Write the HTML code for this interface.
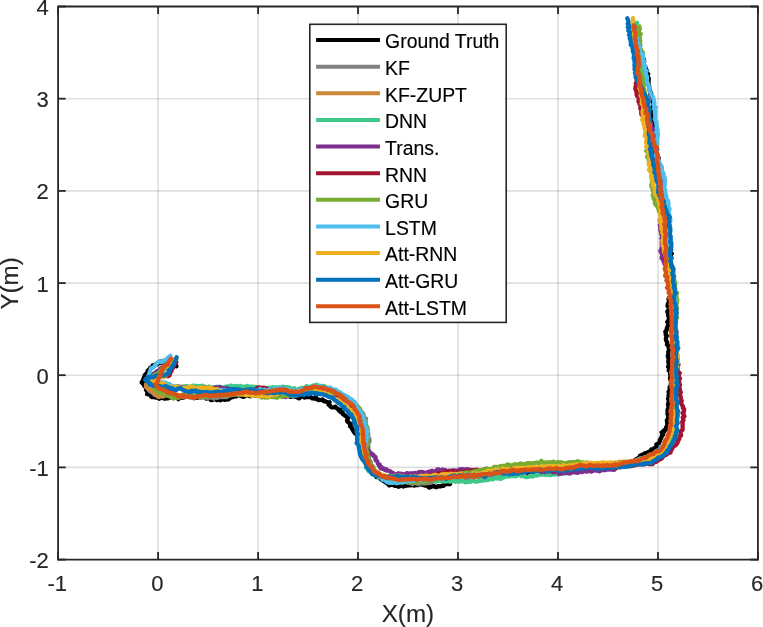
<!DOCTYPE html>
<html lang="en"><head><meta charset="utf-8"><title>Trajectory comparison</title>
<style>html,body{margin:0;padding:0;background:#fff}body{width:763px;height:627px;overflow:hidden}svg{display:block}text{font-family:"Liberation Sans",Arial,sans-serif;fill:#262626;stroke:#262626;stroke-width:.15px}.tk{font-size:22px}.lb{font-size:24.2px}.lg{font-size:19.4px;fill:#000;stroke:#000}.tr polyline{fill:none;stroke-width:4.3;stroke-linejoin:round;stroke-linecap:round}.gd line{stroke:#262626;stroke-opacity:0.15;stroke-width:1.6}.ax line{stroke:#262626;stroke-width:1.8}</style></head><body>
<svg width="763" height="627" viewBox="0 0 763 627">
<rect x="0" y="0" width="763" height="627" fill="#ffffff"/>
<g class="gd"><line x1="158.1" y1="6.5" x2="158.1" y2="559.6"/><line x1="258.1" y1="6.5" x2="258.1" y2="559.6"/><line x1="358.0" y1="6.5" x2="358.0" y2="559.6"/><line x1="458.0" y1="6.5" x2="458.0" y2="559.6"/><line x1="558.0" y1="6.5" x2="558.0" y2="559.6"/><line x1="658.0" y1="6.5" x2="658.0" y2="559.6"/><line x1="58.1" y1="98.7" x2="757.95" y2="98.7"/><line x1="58.1" y1="190.9" x2="757.95" y2="190.9"/><line x1="58.1" y1="283.1" x2="757.95" y2="283.1"/><line x1="58.1" y1="375.2" x2="757.95" y2="375.2"/><line x1="58.1" y1="467.4" x2="757.95" y2="467.4"/></g>
<g class="tr">
<polyline stroke="#000000" points="176.4,366.2 175.6,364.2 174.4,364.1 173.6,362.9 171.4,363.0 169.7,362.1 169.4,361.5 167.4,361.0 166.1,361.1 163.8,361.0 163.0,361.8 161.6,362.7 160.6,361.3 159.6,362.8 158.6,363.2 157.4,364.3 156.0,364.1 155.0,365.2 152.6,365.5 152.5,367.3 150.2,367.9 149.9,368.8 148.5,370.0 147.7,370.8 148.3,371.3 146.3,373.7 145.0,374.8 144.6,375.8 144.1,377.6 144.9,378.9 143.3,378.8 143.2,380.1 141.7,382.5 142.5,383.4 143.0,383.3 144.3,384.1 143.9,385.5 145.5,386.8 146.1,387.6 146.0,389.9 147.1,390.6 147.5,391.9 147.1,394.2 149.6,394.3 150.5,395.4 151.0,396.4 151.7,397.1 154.5,397.0 155.3,397.6 157.3,397.3 159.3,398.8 160.0,398.3 162.4,397.6 163.4,398.4 165.1,398.7 166.6,398.1 168.2,398.3 170.4,397.5 171.4,396.1 172.8,396.3 174.3,395.9 176.1,397.1 176.8,397.4 178.3,399.1 179.7,397.8 180.4,396.7 181.7,397.5 182.6,397.8 185.5,396.9 186.6,396.8 187.8,396.8 189.3,397.1 192.2,396.9 192.8,396.9 194.1,398.2 195.7,397.8 197.2,397.9 199.1,397.1 199.4,397.0 201.8,397.4 201.3,396.0 203.5,396.7 204.6,396.9 206.0,398.5 207.4,398.3 209.3,398.1 211.0,400.1 212.3,399.8 212.9,399.8 215.1,399.0 216.9,400.1 218.3,399.2 220.4,400.3 222.3,398.9 223.3,399.1 224.7,399.9 227.5,398.9 228.2,399.5 229.4,398.7 231.5,397.0 233.2,397.0 234.3,396.0 236.5,396.3 237.6,394.9 239.0,394.9 241.1,396.1 243.0,396.8 244.0,396.7 245.9,395.3 247.4,395.4 250.1,396.3 250.3,395.2 252.7,394.5 253.7,395.3 255.3,395.5 257.2,394.5 258.8,393.9 260.6,394.0 261.8,395.3 263.1,394.2 264.8,394.4 266.8,394.5 268.5,394.5 270.4,393.5 271.8,393.8 273.5,392.4 275.3,392.3 276.3,391.5 277.5,392.8 279.0,391.7 280.3,391.0 283.0,391.3 283.4,391.5 285.5,392.7 287.0,391.7 288.8,392.9 289.9,394.2 290.6,396.9 292.6,396.6 294.8,396.4 297.0,397.3 299.1,398.4 301.1,396.6 303.6,396.2 304.7,397.6 306.9,396.8 308.1,397.1 309.7,396.3 311.7,398.1 312.6,398.4 313.8,397.9 313.9,398.5 315.8,396.9 316.0,399.1 317.4,398.9 318.2,399.7 318.3,400.0 320.4,399.9 322.4,399.5 324.0,401.4 325.0,401.0 326.1,401.7 326.5,401.7 328.2,402.8 329.6,402.2 328.6,404.8 329.7,404.8 329.8,405.7 331.4,407.4 333.9,407.4 335.3,406.6 336.4,408.0 337.5,408.4 337.9,409.1 339.3,410.8 340.5,409.8 340.6,412.1 342.6,412.1 342.7,414.0 343.6,414.5 344.6,415.2 345.0,415.7 345.9,416.2 347.0,417.4 348.2,417.6 347.7,418.9 347.0,420.5 347.6,421.8 348.4,422.1 349.4,423.3 350.8,424.0 350.0,426.2 351.5,427.3 352.1,429.1 352.6,429.0 353.1,430.7 354.5,432.6 355.3,433.6 357.2,434.9 358.1,437.2 357.3,438.1 359.8,439.2 360.6,440.7 360.6,443.0 360.8,444.6 362.2,445.4 361.9,447.3 361.5,449.6 362.3,451.2 362.7,452.3 362.3,454.6 364.5,455.8 364.3,456.6 365.6,458.5 365.1,460.8 368.0,461.0 367.7,462.3 368.6,464.5 368.8,466.8 369.7,468.6 369.2,469.3 372.9,471.0 371.7,472.5 373.9,474.0 375.4,475.1 376.2,477.0 377.9,477.1 379.3,477.1 381.0,479.5 382.4,479.4 383.1,480.7 386.5,482.8 387.4,483.5 389.3,485.4 390.1,484.8 392.8,484.7 394.5,485.8 396.2,485.9 397.3,485.7 398.4,486.8 400.5,486.0 401.5,484.8 403.2,486.5 405.6,485.7 406.8,485.6 408.8,485.1 410.5,485.3 412.9,484.7 414.3,485.6 415.4,485.0 417.6,485.0 418.5,485.1 420.3,483.8 422.5,484.8 423.3,485.0 425.4,485.6 426.6,485.0 429.0,487.6 431.2,486.9 431.9,486.3 433.9,486.0 435.2,487.0 436.7,487.0 438.2,486.2 440.8,486.4 442.7,485.4 443.6,485.8 444.6,484.3 446.7,484.0 447.9,483.9 449.9,484.2 451.0,481.0 452.6,480.9 454.3,480.2 455.5,481.2 457.1,479.6 458.2,479.9 460.3,480.1 461.4,479.2 463.5,479.0 464.8,479.1 466.7,477.5 468.5,477.5 469.4,477.7 471.2,477.5 472.7,476.8 474.8,475.2 476.9,475.8 478.2,476.7 479.4,476.5 481.6,475.9 482.1,475.5 485.0,476.4 485.7,475.6 486.4,475.2 490.1,475.0 491.5,476.4 492.0,475.4 494.1,475.7 495.4,474.3 497.2,475.0 498.0,473.6 499.9,473.6 502.1,475.1 503.5,473.4 505.3,472.0 506.5,471.9 508.9,471.6 509.4,471.9 511.2,470.3 511.9,469.2 513.8,470.1 516.5,470.2 517.2,470.5 519.5,471.4 520.8,471.0 522.1,471.6 523.9,470.4 525.5,471.9 527.2,472.8 529.2,471.7 530.7,471.3 531.9,471.1 533.4,472.1 535.3,469.9 536.8,470.2 538.8,470.4 541.0,470.4 541.9,469.5 543.2,470.1 544.7,469.7 546.1,470.0 547.7,469.8 549.2,469.1 551.1,469.8 552.7,470.3 554.7,468.8 555.9,469.1 557.6,469.5 558.7,468.0 561.5,468.7 562.5,467.7 564.8,469.2 566.1,470.0 568.0,469.7 568.7,468.2 570.8,468.7 573.1,468.1 573.2,468.1 575.8,468.9 577.4,466.8 578.7,468.4 580.3,467.4 582.2,468.4 583.0,467.4 584.9,466.7 586.1,467.4 587.7,467.6 589.3,467.0 591.1,467.2 592.8,466.3 594.5,465.1 595.4,467.1 598.4,466.9 599.6,466.3 601.1,466.1 602.3,466.7 603.9,465.4 605.7,465.0 607.3,465.1 608.2,465.9 610.5,463.7 613.1,465.1 612.7,463.7 615.3,462.9 616.9,464.3 618.1,463.1 620.2,462.0 620.9,462.7 623.2,463.3 625.3,463.2 626.0,462.0 627.6,462.3 629.5,462.3 630.6,461.1 633.1,461.3 633.7,460.8 635.7,459.6 636.4,459.0 638.6,458.1 639.6,457.1 639.9,455.9 642.2,454.6 643.4,454.8 644.8,453.3 647.0,452.7 647.5,452.6 648.7,451.7 651.5,451.8 651.3,449.5 653.7,449.5 654.0,448.3 655.7,448.9 656.9,447.6 656.3,444.3 657.3,443.8 658.6,443.7 659.3,442.5 659.8,441.3 659.8,439.9 661.2,437.9 661.6,437.3 661.6,436.1 663.0,434.9 661.6,432.3 664.2,431.7 663.8,430.4 665.9,429.8 666.0,428.0 666.1,427.2 667.5,425.8 667.1,423.4 667.2,422.4 666.8,420.5 667.9,418.7 668.1,417.4 668.4,416.1 667.4,413.7 668.2,412.7 667.5,411.5 667.6,409.5 668.2,408.1 668.8,406.9 668.0,405.0 668.3,403.4 668.5,402.5 668.7,400.2 668.0,398.6 669.4,397.1 668.5,395.9 669.2,393.8 668.5,392.0 669.5,390.4 669.8,389.3 669.6,387.0 671.6,386.2 670.7,384.1 671.9,382.0 671.3,381.1 670.0,379.4 670.2,377.2 670.6,376.2 670.2,374.5 670.1,372.7 669.9,370.8 668.7,370.5 669.7,368.4 668.1,366.8 669.7,365.3 668.6,363.6 668.3,362.0 668.5,360.0 668.9,358.9 667.9,356.9 667.9,355.2 668.7,354.0 668.2,352.1 669.0,349.9 670.7,348.8 668.5,347.6 669.1,345.8 666.9,344.6 667.3,342.5 666.2,340.7 665.9,339.7 666.0,337.9 666.8,335.7 665.7,334.8 665.8,332.9 665.3,331.7 666.9,330.0 666.8,328.3 668.0,325.6 667.9,325.0 669.6,323.4 667.3,321.9 668.6,320.1 669.5,318.2 668.5,316.8 668.0,314.5 668.3,313.6 667.3,311.6 668.2,310.4 669.8,308.6 669.0,307.9 667.5,305.9 667.8,304.3 668.4,302.7 669.7,301.7 668.5,299.1 669.0,297.9 670.4,296.1 670.6,294.4 670.0,292.9 669.7,291.0 669.7,290.1 670.4,288.2 669.4,286.3 671.6,284.3 670.7,283.1 671.5,281.4 672.5,279.8 672.0,278.0 670.4,276.1 672.0,275.2 672.2,272.7 670.8,271.6 670.7,270.5 671.2,268.4 670.0,267.8 672.1,266.3 669.2,264.7 670.0,262.7 670.5,261.1 670.5,259.6 670.8,257.8 671.0,257.0 670.7,254.4 671.8,253.6 669.4,251.7 670.8,250.0 670.0,248.7 670.2,247.1 670.0,245.4 668.8,243.4 668.7,241.6 669.4,239.9 668.8,238.9 667.9,237.2 669.7,235.6 669.8,233.5 667.0,232.9 668.1,230.0 669.6,228.9 668.1,227.5 667.4,225.5 666.7,223.6 666.1,222.3 666.0,220.5 665.4,219.3 666.0,217.2 664.9,215.7 664.7,214.6 663.9,212.5 664.6,211.3 663.8,209.8 664.0,208.5 664.6,206.6 663.9,204.6 663.9,203.8 663.6,201.5 663.2,200.0 662.9,198.5 662.6,197.9 663.1,195.4 661.5,193.7 663.1,192.4 661.8,190.6 661.2,190.0 661.0,187.3 660.9,186.2 661.3,183.9 660.8,183.4 662.0,180.7 660.6,179.6 659.4,177.7 660.4,176.6 659.1,175.1 660.0,172.2 660.5,171.7 659.8,170.1 657.9,168.6 658.0,167.3 659.3,164.6 657.9,163.0 657.6,162.4 658.2,161.1 658.8,158.3 657.8,156.8 656.7,155.4 656.6,153.7 656.5,152.8 655.3,151.2 654.7,150.1 655.2,148.4 654.0,146.1 654.5,145.0 654.1,142.3 655.6,141.0 653.2,140.3 653.3,138.0 653.0,136.1 653.4,134.8 653.9,133.6 652.6,131.7 652.3,129.8 651.9,129.0 652.4,127.3 653.3,124.7 653.0,123.5 652.5,122.6 652.9,120.6 653.3,119.1 653.7,117.0 652.9,115.7 653.1,113.7 652.1,112.5 652.8,111.7 654.6,109.0 651.9,107.7 653.2,106.0 653.5,104.0 653.1,103.0 652.6,101.5 652.7,99.0 652.6,98.0 652.3,96.8 650.3,94.3 651.2,93.1 650.2,91.6 649.9,90.5 649.8,89.0 649.5,87.5 649.1,85.7 647.7,84.2 648.6,83.6 648.5,80.9 648.6,80.1 648.8,78.5 647.7,76.5 647.6,75.2 648.2,74.2 646.2,71.5 647.0,70.9 645.9,69.0 645.5,67.5 643.9,65.5 643.9,64.6 644.0,62.4 644.2,61.4 643.8,59.1 642.6,58.2 642.0,56.5 640.9,54.1 641.2,53.0 640.0,51.6 639.8,49.2 640.1,48.3 638.3,47.3 636.7,45.4 636.7,44.5 635.6,42.1 635.3,40.5 636.6,39.4 635.4,38.0 633.8,36.2 635.1,34.5 635.4,33.3 634.1,31.2 633.8,30.6 633.9,28.4"/>
<polyline stroke="#808080" points="170.0,362.5 171.1,363.5 171.1,364.4 169.8,365.3 168.0,366.8 166.5,366.0 165.7,368.0 163.7,368.7 163.2,370.5 161.4,370.4 161.0,371.4 160.1,371.7 157.4,373.0 157.4,374.1 155.8,374.5 154.1,375.7 153.1,375.9 151.8,377.8 150.8,379.3 148.2,380.1 148.5,382.3 148.4,382.1 147.5,383.4 147.5,384.7 147.3,386.3 147.1,387.7 148.3,388.8 148.8,389.9 149.7,391.3 151.5,391.7 151.6,392.3 152.8,392.9 154.8,394.9 155.0,392.7 156.7,393.6 158.7,394.3 160.2,394.0 162.5,393.8 163.6,394.7 166.1,395.5 167.5,395.6 168.4,394.3 169.1,394.7 171.0,394.3 172.7,394.8 173.5,395.2 175.9,395.0 177.7,395.0 179.0,396.2 180.9,396.9 181.8,396.3 182.0,396.0 183.7,397.0 184.7,395.5 187.0,396.8 188.0,396.5 190.6,397.2 191.9,397.4 193.5,398.0 194.3,396.7 195.0,396.7 197.9,396.1 198.3,397.1 200.4,396.9 201.2,397.6 202.5,397.1 204.3,397.8 205.9,397.4 207.8,398.0 209.1,397.3 211.2,397.6 212.6,396.8 213.8,398.7 215.1,396.9 217.3,398.1 218.7,397.1 220.1,396.8 221.2,397.1 222.6,397.0 225.1,396.8 226.9,397.0 228.5,395.8 229.2,395.8 231.7,394.7 232.7,395.2 234.7,394.7 236.3,394.3 237.4,394.5 239.1,394.4 240.1,394.5 242.2,394.5 243.4,393.9 245.9,393.6 247.3,394.2 249.2,392.6 250.6,392.9 251.8,394.0 253.7,391.5 255.1,392.5 257.1,393.3 258.6,392.0 259.7,394.4 261.6,391.6 263.3,393.8 264.8,393.9 266.9,393.4 268.8,392.6 269.6,392.9 271.2,391.9 272.2,392.7 274.4,391.1 276.0,391.2 277.0,391.7 279.3,390.1 281.1,390.3 282.1,390.5 283.8,389.7 284.9,391.3 287.1,391.4 288.0,390.7 289.9,392.1 292.5,392.4 293.3,392.6 295.1,393.2 296.5,392.7 297.9,393.4 299.8,391.9 301.8,392.2 302.6,391.1 304.8,390.7 306.4,389.2 307.8,388.6 308.2,388.0 310.2,388.4 311.5,388.4 314.2,388.7 315.5,388.3 317.1,387.8 318.1,387.8 319.5,388.4 321.5,388.6 322.9,389.8 324.2,389.9 326.3,389.5 328.1,390.0 329.1,391.4 330.3,391.0 331.6,390.8 333.5,392.3 335.6,392.1 337.0,392.6 338.5,393.1 340.4,393.0 341.5,395.3 343.5,394.8 344.8,395.9 346.0,396.3 347.1,397.9 348.9,398.7 349.9,399.4 351.7,399.8 352.7,401.8 354.9,402.9 355.1,404.5 356.7,406.1 357.7,406.7 357.9,408.6 359.6,409.1 360.8,410.8 362.4,412.9 363.4,414.0 363.7,416.0 364.3,417.6 366.0,418.6 365.2,420.7 365.8,422.4 365.8,424.5 366.3,426.0 367.4,427.6 367.6,429.2 366.1,430.6 367.2,432.4 368.4,433.7 367.7,436.1 368.1,436.4 369.2,438.7 369.6,441.3 369.2,441.8 368.2,443.1 368.3,445.1 368.4,447.2 367.9,448.3 367.6,450.2 369.1,451.2 368.1,452.8 368.9,455.7 369.0,455.9 368.8,457.3 369.0,458.9 369.6,460.7 370.8,461.9 370.9,463.8 370.3,465.7 372.1,465.6 373.6,467.4 373.4,469.1 374.2,470.5 374.9,471.4 376.9,472.0 377.4,474.0 379.4,474.2 380.4,474.5 382.2,475.8 383.7,476.7 384.6,477.6 386.3,478.1 387.9,478.2 390.1,479.2 390.4,478.8 392.8,479.7 394.0,478.7 396.1,479.0 398.1,480.6 399.2,479.7 401.0,480.6 402.2,481.0 404.9,481.2 406.1,481.5 407.8,482.8 408.5,480.9 410.1,483.0 412.6,484.0 413.8,482.8 415.4,483.0 417.2,483.5 418.3,484.3 420.7,482.7 422.0,483.4 423.9,483.2 425.1,483.5 427.1,483.0 428.3,483.1 430.5,482.2 432.2,482.2 433.7,481.4 435.1,481.1 436.8,481.1 437.0,480.9 439.9,479.9 441.2,481.2 442.9,480.0 444.2,479.1 445.5,480.4 447.3,479.2 449.5,479.7 451.4,479.4 452.2,479.6 453.6,479.6 456.2,479.1 456.8,479.5 459.7,480.5 460.3,478.1 461.6,479.2 464.0,479.1 465.8,477.9 466.1,477.5 469.0,478.9 469.8,477.0 472.2,477.9 472.9,476.6 474.0,476.0 476.4,475.8 478.2,475.6 480.3,475.6 481.7,475.1 482.9,475.0 484.1,475.0 485.7,475.7 487.4,475.4 488.6,474.3 490.5,474.4 491.2,474.8 493.8,473.8 495.3,473.6 497.9,472.7 498.8,472.8 499.9,472.7 501.9,472.6 502.7,471.8 504.7,472.6 505.6,471.2 508.7,472.7 509.8,471.3 510.7,471.0 512.7,470.3 514.6,468.9 516.2,470.4 517.7,470.5 518.9,471.5 520.5,469.7 522.5,471.4 524.4,470.2 525.3,470.9 526.7,469.1 529.3,470.5 530.1,470.4 532.5,470.9 533.8,470.6 535.6,469.9 537.6,471.1 538.7,471.0 540.4,470.9 541.3,471.2 543.0,471.3 545.1,470.6 547.0,469.8 548.6,469.7 550.6,471.1 551.4,470.6 552.9,470.2 554.8,469.7 556.1,469.9 557.6,469.8 558.8,469.5 561.3,469.2 562.2,470.7 564.3,469.5 565.1,469.0 567.7,468.3 568.5,468.5 570.9,469.0 571.5,468.8 573.5,468.0 575.7,467.8 576.5,467.5 578.4,466.9 579.9,468.2 580.7,467.8 583.4,469.0 585.0,467.3 586.0,467.8 588.3,468.5 589.3,468.1 590.8,467.5 592.8,467.8 594.1,468.3 597.0,468.4 597.0,468.1 599.6,468.5 601.3,468.3 601.7,467.8 603.4,467.5 605.9,467.0 607.1,467.3 609.1,467.3 611.0,466.6 612.0,466.7 613.3,466.2 614.2,465.6 617.0,465.5 618.3,466.4 620.4,466.1 622.1,466.5 623.0,465.6 625.9,465.6 627.3,465.6 628.8,465.1 629.4,464.1 631.3,463.8 632.9,463.6 634.3,462.6 635.9,463.1 638.1,462.9 639.4,461.7 641.4,462.7 642.3,461.2 644.7,460.6 645.8,460.3 646.2,459.9 648.8,459.7 650.6,458.8 652.9,458.7 653.8,457.7 655.4,456.9 656.6,455.8 658.2,454.1 659.8,454.0 661.1,452.7 663.2,452.4 664.6,450.3 666.4,449.9 666.9,448.5 668.5,446.2 668.8,444.9 669.7,442.9 670.6,441.4 671.5,439.5 671.2,437.6 672.2,436.8 673.9,435.4 672.9,433.7 673.7,430.8 673.8,429.6 673.9,427.5 675.6,426.7 675.3,425.6 675.8,422.4 676.7,421.4 677.1,419.6 675.2,417.9 676.2,416.0 675.8,414.4 675.5,413.6 675.4,410.8 674.9,409.9 675.7,408.2 675.0,405.8 674.8,404.5 675.2,403.4 675.0,402.5 674.8,400.1 674.8,398.4 675.7,397.1 675.0,395.9 674.8,394.2 674.5,392.8 674.9,390.6 674.6,388.7 675.3,387.1 675.5,386.2 674.4,384.2 675.6,382.5 676.1,381.3 675.9,379.6 675.4,377.0 676.6,376.2 675.6,374.3 675.2,373.2 675.3,371.4 675.8,370.5 676.3,368.2 676.4,366.1 675.8,364.1 675.0,362.8 675.3,361.4 675.2,360.1 675.6,358.7 674.7,356.9 675.7,355.0 676.0,353.9 675.6,351.6 676.0,350.8 675.3,349.5 675.0,347.6 675.4,346.3 676.4,344.5 676.3,341.9 675.5,340.8 676.4,339.1 675.6,337.1 676.6,335.4 676.1,334.6 675.6,332.2 676.3,331.0 675.4,329.6 675.3,327.8 675.0,327.0 675.9,325.1 675.7,323.2 675.6,321.3 675.3,320.1 676.2,318.3 675.1,316.3 674.9,314.5 676.0,313.1 676.0,311.2 675.4,310.3 674.2,308.7 674.7,306.8 675.2,305.4 674.7,303.8 675.3,301.2 673.6,300.5 674.5,299.1 673.4,297.0 674.1,294.7 673.1,293.9 673.2,291.7 672.0,291.0 671.2,289.5 670.9,288.0 670.7,286.2 670.0,283.9 671.1,283.3 670.7,280.6 670.1,280.2 669.2,278.4 669.5,276.4 669.0,274.9 669.9,273.4 669.1,272.7 668.8,270.3 668.0,269.4 666.6,266.4 666.9,265.9 666.4,264.2 666.9,263.1 666.6,261.3 666.1,260.0 666.3,257.5 667.5,256.4 666.2,254.4 666.4,253.3 666.9,251.7 666.8,249.3 667.1,248.6 667.7,247.4 668.3,244.9 666.3,243.9 667.1,242.0 666.9,239.8 666.7,238.9 666.4,236.6 666.1,235.7 666.7,233.1 665.7,231.6 665.8,230.8 665.7,229.1 665.6,227.7 665.3,225.7 665.8,223.6 665.2,223.2 665.1,220.6 664.9,219.9 664.2,218.2 664.1,216.9 663.6,213.8 664.2,213.0 663.4,211.4 663.0,210.2 663.3,207.8 663.3,207.5 661.7,205.2 663.2,202.5 662.2,202.1 661.9,200.3 662.4,198.4 661.8,197.4 661.3,195.5 662.7,193.4 660.7,192.3 661.0,190.6 661.3,189.2 660.0,187.5 660.2,186.0 660.2,183.8 661.1,182.4 659.1,181.4 659.6,180.6 659.7,177.7 659.2,176.1 658.6,175.3 659.4,174.0 659.0,172.1 658.8,169.6 659.1,168.8 658.7,167.0 658.0,165.2 657.6,163.2 656.7,162.2 657.0,160.6 657.0,159.2 656.3,156.7 656.4,155.3 655.7,154.3 656.8,153.0 656.8,151.2 654.9,149.3 655.0,148.2 654.1,146.1 654.5,144.6 653.6,143.2 653.0,141.6 652.5,140.1 652.4,139.0 651.4,137.4 651.6,134.5 651.0,134.6 651.3,132.5 650.6,130.4 651.0,129.1 650.3,127.9 650.6,126.4 649.1,124.4 649.6,122.4 648.9,120.8 648.9,119.7 648.4,117.8 648.7,117.0 646.6,115.3 647.5,113.9 646.1,112.1 647.2,110.1 645.2,108.7 645.5,107.8 644.8,105.4 646.5,104.2 644.7,103.1 645.1,101.0 644.6,100.0 643.4,98.0 643.8,96.1 643.9,94.7 643.0,92.9 643.2,91.6 642.0,90.1 641.8,89.1 641.1,87.0 641.2,85.8 641.8,83.9 640.7,82.3 640.4,80.6 640.0,79.8 639.8,78.2 640.8,76.0 639.3,74.2 639.2,72.6 639.5,70.8 639.0,69.1 640.1,67.7 637.4,66.5 638.7,65.2 638.6,63.6 637.3,61.9 637.3,60.0 637.7,58.3 638.1,56.8 636.6,55.4 636.0,53.5 637.4,51.9 637.6,50.2 636.5,48.8 635.4,47.7 637.2,46.0 636.0,43.9 636.4,42.3 635.5,41.0 635.0,39.6 634.5,36.9 635.4,36.4 635.0,34.6 632.8,33.0 633.2,32.0 634.5,29.7 633.1,27.5"/>
<polyline stroke="#CB8839" points="171.1,361.8 170.4,362.7 168.9,362.6 167.8,363.7 166.0,365.7 165.1,365.8 164.0,367.0 163.6,368.6 163.1,369.0 162.4,370.2 160.6,370.6 159.6,372.3 157.3,373.8 155.7,374.6 155.3,374.4 154.5,376.7 153.3,377.1 152.3,377.5 152.4,379.7 150.5,379.2 148.7,382.0 149.4,381.8 147.2,383.9 146.1,384.3 146.3,384.9 145.9,386.8 148.1,387.9 147.9,388.8 149.5,389.7 151.4,389.5 152.1,391.1 154.1,392.3 153.6,393.1 155.0,394.0 156.4,395.0 157.6,396.5 159.1,397.0 160.3,396.3 162.9,395.8 163.2,396.6 165.1,394.7 166.8,395.3 167.3,394.8 168.4,394.4 169.6,395.4 171.0,395.3 172.3,395.8 174.2,395.9 175.3,394.5 177.8,395.2 178.5,395.4 181.8,394.8 183.2,394.6 184.5,395.7 185.3,394.5 186.6,394.5 189.0,394.6 190.2,395.0 192.1,395.0 193.2,395.6 195.6,395.4 196.0,394.0 197.5,392.9 197.7,393.2 199.4,392.5 201.3,393.2 202.2,394.5 203.9,394.5 205.9,395.2 207.0,395.0 208.6,393.9 210.8,394.7 212.5,394.0 214.0,395.6 215.6,394.4 217.0,394.4 218.7,394.6 220.4,394.4 221.8,394.3 223.3,395.1 224.9,394.2 227.4,394.3 228.1,394.3 229.5,392.9 231.1,394.2 232.8,393.5 234.5,393.5 235.5,392.5 236.8,393.4 239.3,393.1 240.2,392.6 242.6,394.1 244.1,393.2 246.1,392.7 247.9,393.0 249.0,393.4 250.3,393.5 251.6,393.2 253.4,393.5 255.3,393.6 256.0,392.2 258.5,392.6 260.0,392.4 261.9,392.9 263.2,393.6 264.9,393.1 266.2,392.1 267.9,392.3 269.1,392.9 271.3,391.8 273.6,391.6 274.7,391.6 276.1,390.1 277.4,391.3 279.9,390.6 280.5,390.6 282.7,389.6 284.0,389.6 285.2,389.7 287.5,390.5 288.7,390.5 290.4,390.8 291.9,391.9 293.4,391.7 294.9,390.7 296.7,390.7 298.0,391.9 299.4,390.5 301.0,391.1 302.3,390.9 303.8,389.3 305.5,389.0 307.4,388.7 309.3,387.7 309.7,387.5 312.1,387.4 312.8,387.9 314.8,387.0 316.7,387.0 317.6,386.7 319.5,386.3 321.7,388.2 323.7,386.4 325.0,387.6 326.2,388.6 329.1,388.3 329.5,389.6 330.6,390.4 333.5,390.3 334.3,391.5 335.7,391.5 337.2,393.4 338.3,393.8 339.9,394.8 340.8,396.0 342.0,396.2 343.8,397.9 345.1,398.3 346.6,398.2 347.4,399.9 349.1,401.6 350.5,401.6 350.6,404.0 352.4,405.0 353.1,406.2 354.3,406.5 355.4,408.8 356.3,410.3 357.5,411.4 358.4,413.1 360.1,413.6 359.3,416.0 361.3,417.3 362.2,417.9 362.3,420.5 362.5,422.2 362.0,423.6 363.1,425.5 362.6,426.8 363.3,427.7 361.9,430.3 362.9,431.5 362.3,433.2 364.1,434.5 363.4,436.7 364.4,437.9 363.7,439.0 363.9,441.1 365.2,442.7 365.1,443.7 365.3,445.4 365.7,446.9 365.6,448.5 366.0,450.4 366.6,452.1 366.2,454.2 366.2,455.6 367.4,456.8 367.4,458.5 367.7,460.2 368.2,461.0 369.3,462.8 369.3,464.4 370.1,465.6 371.0,466.8 372.4,467.8 372.6,469.8 373.6,470.6 376.0,471.4 376.9,472.4 377.8,474.0 379.7,474.0 380.9,475.6 381.9,476.0 383.7,476.4 384.5,477.1 386.0,476.8 387.5,477.8 390.6,477.7 390.5,480.0 393.1,479.9 395.1,479.9 396.0,479.5 398.4,480.1 400.1,480.4 401.4,480.5 403.5,480.7 404.5,479.9 405.5,480.9 407.6,480.6 408.9,480.5 410.1,480.7 411.7,481.6 414.8,482.1 415.2,480.8 417.1,482.4 418.5,482.1 420.4,481.0 421.8,480.7 423.4,480.7 424.7,481.1 426.1,480.2 428.0,479.6 430.1,480.1 432.3,478.6 433.6,479.7 435.5,480.2 436.6,479.7 438.0,479.9 439.0,479.7 441.2,479.6 441.9,479.2 444.2,478.4 446.6,478.5 447.6,478.4 449.6,478.8 450.6,478.7 451.7,477.8 453.6,476.8 455.2,476.5 457.5,476.6 459.4,477.2 459.9,476.6 461.7,476.4 463.3,475.9 464.9,476.8 466.1,476.5 468.3,476.2 470.0,476.3 471.7,477.2 472.6,476.3 474.7,477.3 475.6,477.1 478.3,476.3 479.2,476.7 481.0,476.1 482.5,475.6 484.1,475.7 485.4,475.2 486.9,475.8 489.8,475.1 490.8,475.3 492.5,475.2 494.5,472.7 495.4,474.5 497.1,473.1 498.6,474.0 500.6,473.1 502.0,473.5 503.6,473.9 504.8,472.1 506.7,472.8 508.6,472.4 508.8,471.2 511.3,472.3 512.7,471.7 514.3,471.1 515.2,470.8 518.1,472.6 518.9,470.6 520.6,469.6 522.2,470.0 523.3,470.2 525.4,470.1 526.5,470.2 528.4,469.6 530.3,470.4 532.0,469.8 533.6,469.3 535.2,469.6 537.7,469.8 538.6,470.5 539.5,470.4 541.4,470.0 543.0,470.2 544.8,470.3 546.2,471.3 547.7,469.8 550.3,470.4 551.3,470.6 552.7,469.7 554.4,470.4 556.0,470.5 558.3,470.1 559.5,470.6 561.4,470.6 561.4,470.6 564.3,469.5 566.2,469.4 568.3,470.2 568.9,468.1 569.8,468.5 572.4,468.5 573.4,467.9 574.6,468.0 576.6,467.5 578.9,467.6 580.6,467.8 581.9,466.8 582.8,467.0 585.8,466.7 585.9,466.6 587.9,466.8 589.0,466.2 591.7,467.3 593.0,467.9 594.8,467.9 596.1,467.7 597.6,466.6 599.3,467.9 600.1,466.7 602.9,467.0 604.5,467.9 605.5,466.3 607.3,467.2 609.1,466.8 611.2,466.4 612.3,465.9 613.8,466.5 615.2,465.9 616.5,466.6 618.5,466.5 620.1,464.8 621.7,464.9 623.4,464.6 625.1,463.6 626.5,463.1 628.1,463.3 629.8,462.5 631.0,461.3 632.6,461.5 634.5,461.6 634.9,460.5 637.7,460.0 638.7,461.2 641.0,460.5 641.8,458.7 643.9,458.4 645.3,459.0 646.3,457.9 648.8,457.5 649.9,457.0 651.7,456.9 652.4,454.7 654.3,453.9 655.9,453.6 657.8,453.8 658.3,452.7 659.4,450.7 661.6,450.2 663.3,448.5 663.6,447.2 664.4,446.0 666.0,444.4 667.0,443.6 667.3,441.8 668.2,440.3 668.4,439.3 669.3,436.8 669.6,435.4 670.7,434.3 670.9,433.0 671.6,430.9 672.8,428.9 672.8,428.1 673.4,426.6 672.6,424.2 674.0,423.5 673.6,422.0 673.8,419.7 673.8,418.1 675.0,416.3 674.8,414.8 673.9,412.8 673.5,411.4 674.0,409.9 673.6,408.3 674.7,406.2 672.9,404.5 672.7,402.9 673.6,401.4 673.9,401.4 674.1,398.9 674.6,397.1 675.4,395.3 674.2,394.5 674.2,391.6 673.6,390.5 674.7,389.3 675.1,387.4 674.5,386.0 675.3,384.6 674.7,382.4 675.5,381.3 674.9,380.0 674.2,378.0 674.5,376.2 674.0,375.0 674.0,372.4 675.1,371.8 675.4,369.0 676.0,367.8 674.9,366.9 674.9,364.8 674.5,362.8 675.7,361.7 675.5,360.5 675.1,358.4 675.8,356.0 675.8,355.8 674.6,353.4 676.0,352.0 675.6,350.4 675.2,348.9 675.1,347.3 676.1,345.1 675.8,343.7 675.8,342.7 674.1,340.1 674.3,339.7 675.1,337.3 674.0,335.9 674.3,333.9 673.7,332.6 675.8,330.7 675.4,329.6 675.1,327.6 674.9,326.2 674.5,323.9 674.4,323.4 674.8,321.0 674.0,319.7 674.8,318.2 673.7,316.9 673.3,314.9 674.3,314.0 673.4,312.4 673.6,309.9 673.0,309.3 671.8,306.5 673.3,305.5 672.1,303.7 673.2,302.1 671.6,300.5 671.2,299.2 672.1,297.5 671.8,295.8 671.2,293.8 670.1,292.3 670.9,290.4 669.4,289.5 669.7,288.0 669.3,287.0 669.2,284.5 669.6,282.7 668.6,281.8 669.0,279.6 668.8,277.8 667.3,276.9 667.3,274.9 667.4,273.6 667.1,272.9 667.3,270.8 665.9,269.2 667.0,267.2 666.9,266.2 666.2,264.4 665.4,263.1 666.1,261.1 665.7,259.4 666.4,257.4 666.1,255.9 666.7,254.6 666.2,252.9 667.4,251.4 665.6,249.8 666.4,247.6 667.3,247.6 666.2,245.1 667.3,243.3 666.0,241.3 666.4,240.6 665.4,238.4 665.4,236.6 665.4,235.6 665.1,234.6 664.7,232.3 666.0,231.0 664.9,228.7 664.4,227.8 665.4,225.0 665.5,224.1 665.7,222.8 665.9,221.1 664.2,219.8 665.0,217.5 664.7,215.5 663.8,214.7 663.6,212.6 661.7,212.0 662.7,209.8 663.6,207.2 661.7,207.4 662.0,204.6 662.3,203.0 662.4,202.6 662.8,200.8 660.8,199.2 661.5,196.7 661.9,195.6 660.5,194.1 661.0,192.0 661.9,190.6 661.5,189.0 660.9,187.6 659.0,185.6 660.2,184.7 660.1,182.1 659.6,181.3 659.4,179.9 660.7,177.6 658.5,176.3 657.9,175.8 658.1,173.3 657.5,172.4 657.3,170.6 657.1,168.3 657.5,167.3 657.1,165.2 656.3,164.0 656.7,161.4 657.1,160.6 656.6,159.4 657.3,157.7 656.8,156.1 655.5,154.2 655.9,152.6 656.4,150.5 655.9,149.2 654.8,147.9 654.9,146.1 653.8,145.0 653.0,143.4 653.5,141.3 652.9,139.8 652.8,138.7 652.1,137.8 651.6,135.9 650.5,134.1 650.7,133.5 650.1,131.1 649.0,129.4 649.1,128.1 647.4,127.2 647.2,124.3 648.0,122.6 648.0,121.7 646.8,119.6 646.3,118.1 645.6,117.6 645.9,114.4 646.1,114.2 644.6,112.5 645.4,111.1 645.0,109.1 644.8,108.0 643.6,106.1 644.1,103.9 642.7,102.9 644.0,101.3 642.7,99.1 641.8,98.7 642.6,96.1 642.3,95.1 640.9,93.5 642.1,91.7 640.0,90.5 640.4,88.8 640.7,87.4 638.5,86.1 639.9,83.8 639.1,82.5 638.9,81.3 638.0,79.6 638.6,77.9 637.7,76.2 637.7,74.4 637.9,72.8 637.4,71.6 638.9,69.6 637.3,68.6 637.6,67.6 637.7,64.9 637.8,63.9 638.1,62.0 638.0,60.5 637.2,58.2 637.1,57.4 637.1,55.2 637.4,53.8 637.2,52.5 636.4,51.2 635.3,48.9 637.3,47.0 636.4,45.3 635.8,43.4 635.7,42.4 635.0,40.9 634.5,39.5 634.5,37.8 634.3,36.4 633.8,35.0 633.0,32.3 633.4,32.2 633.6,29.7 632.8,28.1"/>
<polyline stroke="#3DC98A" points="172.0,359.7 170.5,360.3 170.7,361.6 169.3,361.8 169.5,363.9 168.2,364.8 166.5,365.1 165.9,365.9 164.9,366.7 164.3,368.6 163.0,368.8 161.9,369.2 160.0,370.8 157.9,373.2 156.8,374.9 156.3,376.0 154.6,377.1 152.4,377.7 151.0,377.5 149.9,378.8 149.4,378.9 148.6,380.5 150.2,380.6 150.5,381.9 152.1,382.2 152.4,381.7 155.4,383.9 157.6,384.7 157.7,384.4 160.7,386.0 161.6,386.9 162.4,386.7 163.4,387.4 166.0,387.1 167.1,387.5 168.7,387.1 169.7,387.0 170.8,387.5 172.8,387.7 173.4,387.3 175.6,386.8 175.8,386.5 177.4,386.7 178.4,386.7 180.8,387.1 180.6,387.0 182.3,386.6 184.8,386.3 186.4,386.1 189.2,386.8 190.9,386.6 192.2,385.6 193.7,386.2 194.0,385.7 195.9,386.0 197.7,386.1 199.5,386.2 200.7,386.0 202.5,385.6 202.8,386.6 205.2,386.6 206.6,387.8 208.6,386.5 210.2,387.3 211.3,388.2 212.9,387.5 214.8,387.1 216.5,387.0 217.1,386.8 220.1,386.9 221.3,387.3 222.9,387.9 224.6,387.6 225.6,386.6 227.6,386.3 229.6,387.0 231.1,385.5 232.5,386.3 233.9,386.4 235.2,386.0 237.7,386.1 239.0,387.1 240.2,386.0 241.1,386.5 243.3,386.6 244.5,387.0 247.3,385.9 248.6,387.4 249.8,386.6 251.7,386.7 254.4,386.8 255.5,386.9 256.2,387.0 258.3,388.4 259.5,388.1 260.9,388.0 263.2,388.8 265.6,387.8 266.9,388.6 267.7,388.3 269.0,387.7 270.9,388.6 272.5,387.1 273.3,388.3 274.6,387.3 277.8,387.5 279.0,388.0 281.2,387.3 282.4,386.7 284.7,387.2 285.7,387.2 288.0,387.2 290.1,387.8 291.3,388.8 292.1,389.3 294.3,388.3 294.9,389.5 295.8,390.0 297.9,389.6 299.5,388.6 301.1,389.4 301.4,388.0 304.1,388.3 305.9,388.5 306.4,386.1 307.6,387.2 310.7,386.5 312.2,386.1 313.7,385.3 314.5,385.4 316.4,384.7 319.0,385.8 320.6,386.3 322.2,385.9 323.6,386.1 325.4,386.8 326.5,387.5 328.1,388.2 329.5,388.7 331.3,389.7 332.8,389.7 335.1,390.1 335.4,392.9 335.8,394.0 338.9,394.2 338.9,395.0 340.3,396.8 341.6,398.2 343.0,399.1 343.0,399.4 345.8,400.5 346.9,401.7 348.2,402.8 348.7,402.5 349.6,404.7 351.1,405.8 351.8,407.0 353.8,408.3 353.5,409.5 355.7,410.8 355.6,412.4 357.5,412.2 357.4,414.3 357.3,416.3 358.6,417.7 359.0,419.6 360.4,420.3 359.1,422.8 359.8,423.2 360.3,424.0 360.5,426.7 360.8,428.6 360.3,429.9 361.1,431.1 362.2,433.2 361.6,435.5 360.7,436.3 361.1,437.6 361.7,439.2 361.2,442.0 361.4,442.8 361.2,444.7 362.6,446.4 362.3,448.1 361.6,449.0 362.6,451.3 362.6,453.0 362.1,454.7 363.8,456.2 363.7,457.3 364.5,459.0 364.9,460.5 365.2,462.8 366.1,463.6 367.2,465.5 365.9,467.6 367.8,469.1 368.3,470.9 370.1,471.9 371.7,473.2 372.9,474.4 374.6,475.3 376.2,474.7 378.2,477.3 379.8,476.4 381.3,477.7 382.3,479.4 385.1,478.6 385.8,479.7 388.3,479.0 390.1,479.8 392.0,479.7 393.4,480.0 394.9,479.3 395.7,479.3 398.3,480.2 399.9,479.1 401.4,479.6 402.9,480.6 404.3,480.0 405.6,480.0 407.9,480.1 409.5,481.0 410.2,480.8 412.6,481.2 414.0,481.1 415.8,482.4 417.2,481.0 419.1,480.0 420.7,481.1 422.3,480.9 423.0,480.8 425.4,479.5 426.8,481.0 427.9,480.2 430.2,480.1 430.9,479.3 433.6,480.6 435.5,480.4 436.3,481.5 438.4,480.6 439.8,480.3 441.6,481.2 442.4,480.8 444.8,481.6 446.2,480.8 448.1,481.4 449.4,481.4 451.4,481.5 452.7,481.2 454.4,481.1 456.3,481.5 457.4,481.3 459.4,481.7 460.6,481.5 462.3,480.3 463.6,481.6 465.7,482.4 467.5,481.8 468.6,481.9 470.6,481.7 472.0,481.1 472.9,480.5 475.3,481.6 477.3,481.5 478.2,481.2 479.3,481.0 481.7,480.7 483.0,480.4 485.7,480.2 486.5,480.0 488.1,480.0 489.4,479.1 491.4,479.0 492.7,479.5 494.1,478.7 495.8,477.2 497.3,478.5 499.5,476.7 500.4,479.0 502.3,478.0 503.6,477.7 504.8,476.7 507.5,476.0 507.7,476.5 510.7,476.2 511.0,475.7 513.3,476.0 515.8,476.2 515.6,476.3 517.5,475.4 520.1,474.8 521.4,476.2 522.7,475.8 524.5,476.5 525.8,477.1 527.8,477.0 529.9,476.1 530.7,476.4 532.5,476.5 534.5,475.4 536.3,475.3 536.9,475.6 538.8,474.9 540.0,474.6 541.5,474.3 543.2,474.7 544.7,474.2 545.8,475.0 547.3,474.2 549.4,475.1 551.4,474.9 553.4,473.3 554.4,474.6 556.2,473.7 558.2,474.6 559.9,473.9 561.2,473.4 562.9,473.6 565.2,472.4 566.0,472.7 567.5,472.3 568.6,471.7 571.0,471.6 572.2,470.4 574.8,470.9 575.3,469.6 577.5,470.3 579.1,470.0 580.9,469.8 581.2,468.9 584.0,470.7 584.9,468.7 586.4,468.7 587.9,468.1 589.5,469.2 591.1,468.1 591.9,468.9 594.6,467.7 596.1,468.4 597.3,467.9 599.2,468.6 601.8,467.7 602.6,467.2 604.0,467.8 606.3,466.5 607.0,466.4 608.9,467.0 610.2,465.2 612.1,466.3 613.9,465.3 615.4,464.7 616.6,465.1 618.5,465.1 620.0,464.1 621.5,464.2 623.3,464.5 624.7,464.3 626.2,463.6 628.0,462.9 629.1,462.5 631.3,462.2 632.8,462.6 634.0,462.1 635.7,461.5 637.4,461.6 638.8,460.1 640.4,459.6 641.9,459.2 643.6,460.1 645.3,457.1 647.1,458.0 648.4,457.7 650.2,456.8 652.0,457.5 653.1,456.4 654.7,455.4 656.5,453.2 657.8,453.3 658.9,451.9 659.9,451.3 661.6,449.9 662.9,447.9 664.0,447.6 665.7,446.3 666.4,444.6 666.9,443.2 666.8,440.8 668.9,440.6 669.7,439.0 669.5,437.6 670.3,434.7 671.1,434.2 670.6,432.4 671.8,430.5 670.8,429.3 671.1,427.5 671.7,426.2 671.0,424.2 672.0,422.8 672.5,420.9 671.6,419.4 673.0,418.1 672.3,416.3 673.1,414.6 672.9,413.1 672.5,411.0 672.4,409.4 671.7,408.1 672.3,407.0 672.2,404.7 673.6,403.8 673.3,401.6 672.1,400.1 673.5,398.8 673.4,397.3 673.3,395.7 674.1,393.0 674.4,392.3 673.7,390.7 673.9,388.6 674.1,387.3 673.4,385.4 673.9,384.7 673.6,383.0 673.2,379.7 673.0,379.4 673.5,377.9 673.9,376.1 673.6,374.2 672.9,373.4 673.9,371.2 673.6,369.7 673.8,367.8 674.2,366.4 673.0,365.1 673.4,363.6 673.2,362.6 673.1,359.7 674.7,359.0 674.2,357.0 672.6,354.6 673.9,353.8 673.3,351.8 674.2,350.5 673.6,348.6 673.4,347.2 673.5,345.8 673.5,343.5 673.2,342.5 673.0,341.3 673.0,339.3 673.3,337.4 672.4,336.5 673.0,334.1 673.0,332.5 672.9,330.4 673.7,329.8 672.7,327.7 673.3,327.0 673.1,324.9 673.9,323.1 673.2,321.4 673.3,320.0 673.3,318.4 671.9,317.0 672.8,315.3 671.9,313.4 672.0,311.7 671.9,310.1 672.3,308.3 672.3,306.6 673.0,306.1 672.0,304.1 671.6,302.4 671.6,300.9 672.0,298.6 672.4,297.0 671.6,295.8 670.8,294.2 671.0,292.1 670.8,291.1 670.3,289.6 669.4,287.6 668.1,286.4 668.8,284.3 669.4,283.0 668.6,281.3 667.0,280.5 668.0,278.9 666.7,277.1 668.8,276.2 667.5,273.6 666.5,271.9 667.5,270.5 666.3,269.1 666.8,267.0 666.2,265.9 665.2,263.9 666.0,261.8 664.7,260.8 666.0,259.1 665.2,257.7 664.5,256.2 664.0,254.6 666.0,253.0 665.9,251.0 664.4,250.5 666.1,248.3 665.3,246.4 665.1,245.4 665.3,243.5 665.4,242.1 666.6,240.0 666.1,238.3 665.1,236.4 667.5,235.1 666.8,234.0 665.6,232.1 665.9,230.3 665.4,228.4 665.8,228.2 665.8,225.6 665.5,224.8 664.8,222.3 664.5,220.8 665.3,219.1 664.6,217.4 665.7,215.9 663.8,214.9 664.5,212.8 663.8,210.9 663.2,209.9 664.2,208.1 663.4,207.1 662.6,204.6 662.9,203.6 663.5,202.0 662.0,200.5 663.2,198.9 662.5,197.1 661.5,195.0 662.1,193.5 661.9,191.7 660.9,190.2 660.5,189.5 661.2,187.3 660.9,185.3 659.4,183.6 660.0,183.3 660.0,181.7 659.7,179.4 659.0,178.2 660.2,176.7 659.5,174.6 659.3,173.5 659.9,172.4 658.4,170.1 658.4,168.4 658.3,166.6 657.6,165.0 657.5,163.6 657.7,162.2 657.0,160.8 657.6,159.5 656.0,157.6 656.1,155.4 654.9,154.1 655.2,151.9 654.7,151.3 655.6,150.1 654.6,147.6 654.0,146.1 654.5,145.2 653.8,143.9 652.7,141.9 651.4,140.4 650.8,139.6 651.2,137.5 650.8,136.1 650.5,134.7 650.5,133.1 649.4,131.1 651.0,129.2 649.4,128.1 649.5,127.2 649.4,123.8 647.9,123.6 648.8,121.5 648.3,120.3 647.0,118.4 646.2,117.7 646.0,115.4 644.8,114.1 646.3,111.8 645.4,111.1 644.7,109.4 644.3,107.7 644.8,105.1 645.3,104.8 643.4,102.8 643.6,101.5 642.5,99.7 643.6,97.7 643.0,96.4 643.9,94.5 642.3,93.2 641.9,92.0 641.4,90.3 642.0,89.1 640.2,87.3 641.3,85.7 640.7,84.0 640.0,82.1 639.5,80.7 640.4,78.9 640.6,77.0 639.2,76.9 639.4,74.2 640.0,72.7 638.5,71.3 638.7,70.1 638.0,67.8 638.6,66.0 638.6,64.4 638.4,63.2 638.2,61.4 637.7,59.7 637.8,57.7 637.9,56.3 638.8,55.0 638.0,53.5 637.7,51.9 638.4,50.2 638.3,48.8 637.4,46.8 637.5,45.8 638.2,44.1 637.9,42.1 637.1,41.0 637.6,39.2 637.3,38.3 637.6,35.6 636.3,34.4 637.0,32.8 636.5,31.0 635.5,29.6 636.6,28.3 636.3,25.6 635.1,25.1 636.9,22.8"/>
<polyline stroke="#7E2F8E" points="171.5,360.4 170.1,360.0 168.4,360.9 166.9,362.2 166.1,363.2 165.4,364.9 164.8,364.9 164.0,366.1 163.7,366.9 161.7,367.5 160.1,368.8 160.0,369.3 158.2,371.1 157.0,371.1 156.7,371.6 154.8,373.0 152.8,374.3 151.4,374.1 149.5,375.0 148.7,376.4 147.3,377.9 147.1,378.9 147.3,380.3 148.5,380.3 149.2,383.0 149.2,383.5 151.4,383.6 152.5,385.6 154.9,385.7 156.2,386.7 158.4,385.6 159.4,387.4 161.0,386.8 162.9,386.1 164.9,388.1 166.5,388.1 167.8,388.3 170.5,389.2 170.5,388.6 170.7,390.1 171.3,389.9 172.2,389.9 174.4,390.6 176.8,389.5 177.2,388.6 179.4,387.9 180.3,387.9 182.9,388.4 183.9,387.7 185.3,387.9 187.2,389.4 188.8,389.3 190.0,389.3 190.6,390.3 191.5,388.4 192.8,389.0 193.9,387.8 197.1,388.4 197.9,388.7 199.6,388.9 201.0,387.6 203.0,388.8 203.4,388.1 204.9,388.7 206.7,388.8 208.7,388.8 210.8,388.1 212.4,388.2 213.5,388.2 215.4,387.4 216.6,387.3 218.6,388.5 219.8,387.1 221.5,388.3 222.8,387.9 224.6,388.8 226.9,388.0 227.3,388.9 229.4,389.1 230.7,389.1 233.0,389.5 234.9,389.2 235.7,389.9 236.3,390.1 239.3,391.0 241.0,390.9 241.6,390.7 243.9,391.5 245.6,392.1 246.3,392.1 249.2,393.5 250.7,393.3 252.2,393.9 253.3,393.4 255.0,393.8 256.7,394.8 258.7,393.7 259.7,394.8 262.3,394.8 263.5,394.7 264.1,395.2 267.3,394.6 268.5,395.5 269.8,394.9 271.9,394.9 273.2,396.5 275.5,395.3 276.0,394.9 278.4,396.4 280.6,395.4 281.7,394.1 282.3,396.1 282.9,396.6 284.8,396.4 285.5,397.0 287.4,396.0 289.2,396.3 290.6,395.3 293.1,396.0 293.9,396.5 297.4,395.7 298.1,395.2 300.0,393.5 301.9,393.7 303.8,392.5 305.7,392.9 306.8,391.7 308.5,391.8 309.7,390.6 311.2,391.7 311.6,389.8 313.0,390.1 314.4,391.1 316.7,389.7 318.2,389.1 319.7,389.8 321.3,390.1 322.8,390.0 324.4,388.5 325.6,389.6 327.4,388.5 329.6,391.1 331.4,390.5 332.2,390.3 333.8,391.6 335.6,392.4 337.7,392.8 337.5,394.5 339.5,394.9 341.5,395.6 340.8,397.3 342.3,398.7 343.8,399.8 345.1,400.3 347.7,401.4 347.9,402.8 348.7,403.9 350.0,404.1 351.5,405.9 353.6,406.1 353.7,407.4 354.9,408.6 356.8,408.8 358.1,410.6 358.7,412.6 359.1,414.3 359.6,415.8 360.6,417.2 360.9,418.3 361.5,419.9 362.1,422.1 362.2,423.4 362.5,424.5 363.2,426.6 363.2,428.4 363.7,429.9 363.1,431.4 363.8,432.7 362.7,434.7 363.6,436.8 363.5,437.8 364.1,439.0 364.2,441.0 364.3,442.0 365.1,444.1 366.2,445.3 367.5,447.2 367.8,448.4 368.6,450.2 369.3,452.1 369.5,452.5 371.2,453.4 373.3,454.8 373.4,456.0 375.3,456.8 375.7,457.7 375.4,459.8 376.1,460.7 376.8,460.8 377.7,462.6 378.2,464.0 379.7,464.7 379.0,465.8 380.0,466.2 380.6,468.3 381.8,467.2 382.5,468.9 384.0,468.7 384.9,470.0 386.2,469.3 386.7,470.5 388.9,470.7 389.7,471.0 390.9,472.0 393.1,473.2 394.1,473.8 394.7,474.8 396.5,474.9 398.3,473.3 399.5,474.5 400.7,473.6 403.3,474.4 404.9,474.7 406.3,473.4 407.6,473.2 409.4,473.7 411.1,473.2 412.0,474.0 413.8,473.1 415.3,473.0 417.3,473.5 418.6,472.1 419.5,472.3 421.2,471.8 423.7,472.4 424.2,472.8 426.2,473.0 427.4,472.2 429.7,471.6 430.7,471.4 432.1,470.8 433.4,471.4 435.4,471.7 437.2,469.5 438.8,469.4 439.8,471.3 442.4,469.5 443.4,470.6 444.7,469.9 446.9,470.9 448.2,471.0 449.8,470.7 451.4,470.9 453.2,470.4 454.7,470.5 455.9,471.0 458.4,470.3 459.5,469.3 461.8,469.1 463.2,469.4 464.8,469.4 466.2,469.5 468.2,469.2 469.2,470.0 470.6,469.8 472.7,470.1 473.1,470.2 475.6,470.6 477.3,469.8 478.8,471.5 481.0,470.9 482.4,471.1 483.8,471.2 485.2,471.5 487.4,471.2 488.2,470.9 489.9,470.5 491.9,469.5 493.5,470.4 495.7,469.9 496.4,469.9 497.5,471.4 499.9,469.0 501.9,469.9 503.0,470.6 505.3,470.5 507.0,470.7 507.6,469.5 509.3,469.7 510.7,470.6 512.9,470.0 514.7,471.0 516.2,470.1 517.1,470.1 518.9,470.2 520.2,469.9 521.7,470.2 523.4,469.8 525.0,470.3 527.1,470.1 529.0,470.6 530.6,469.9 532.0,470.0 533.4,471.2 535.3,471.1 537.1,470.5 538.3,470.9 540.1,470.4 541.6,472.1 543.0,470.2 544.9,472.0 546.0,470.7 548.5,471.4 549.0,471.2 551.4,471.2 552.4,472.1 555.1,472.3 556.5,472.0 557.5,472.0 559.4,473.9 560.8,473.8 562.8,473.2 564.6,473.0 567.2,473.2 567.2,473.2 569.9,473.5 570.7,472.3 572.7,472.5 574.5,471.9 576.0,472.7 577.5,472.8 578.7,471.7 580.4,471.8 582.0,472.2 583.9,471.1 584.4,470.8 586.4,471.7 587.6,471.3 589.3,470.8 591.0,471.6 593.3,470.8 595.3,469.6 596.6,470.7 597.2,470.4 599.4,471.3 600.5,470.3 602.8,470.0 604.8,470.2 606.1,470.0 607.8,468.9 609.1,469.5 610.0,469.1 611.7,469.7 614.2,469.8 615.8,467.5 617.7,467.0 618.6,466.6 620.3,466.1 622.0,465.5 623.9,465.2 625.1,465.3 626.0,463.6 628.4,462.9 629.6,462.4 631.6,463.6 632.5,463.5 634.2,461.5 635.1,461.3 636.8,461.8 639.2,461.7 640.7,461.2 642.5,460.2 644.4,459.8 645.4,459.2 647.4,457.9 648.5,458.7 650.1,456.8 650.6,455.9 652.6,455.1 653.6,453.9 655.5,453.7 657.5,453.1 657.4,451.8 660.2,451.3 661.6,450.8 662.4,448.6 662.9,446.7 663.8,445.7 664.9,444.5 665.1,443.1 666.2,441.0 667.1,440.2 667.9,438.3 668.6,437.6 668.7,434.7 670.3,434.5 670.6,432.0 670.6,430.9 670.2,428.7 671.6,427.7 670.8,425.5 672.1,424.3 672.0,422.2 671.1,420.7 671.5,419.1 672.9,417.2 672.6,416.5 672.0,414.0 672.2,412.9 672.2,411.9 671.7,409.6 672.0,408.2 671.7,405.9 671.9,405.1 672.5,403.3 671.8,401.6 672.8,400.9 672.6,398.3 673.0,397.4 673.2,394.8 673.5,393.1 673.2,392.2 673.2,391.2 672.8,388.9 673.2,387.3 672.5,385.5 672.8,384.3 673.3,383.1 672.9,381.0 673.2,379.7 672.5,377.0 673.8,376.5 672.9,374.8 673.5,373.0 673.4,371.8 674.1,369.9 673.5,368.2 673.2,366.7 672.8,365.0 673.7,362.8 673.2,361.5 674.1,360.6 674.5,358.6 672.5,356.6 672.9,355.5 673.7,353.6 674.1,352.1 673.5,350.2 673.5,348.9 673.6,347.3 673.7,346.0 674.3,343.9 673.9,342.8 672.9,340.2 673.4,339.2 673.8,337.7 673.3,335.7 673.6,334.4 673.5,332.8 673.3,331.2 674.0,329.9 673.4,328.4 673.0,326.7 673.1,324.3 673.5,323.4 674.5,321.7 673.5,320.1 674.1,318.1 673.4,316.0 672.0,315.5 673.2,313.3 672.4,311.9 672.0,310.5 671.9,308.5 673.3,307.5 671.3,305.2 671.7,303.8 672.5,302.6 672.0,300.0 670.7,298.8 671.3,297.0 671.1,296.4 671.0,294.4 671.3,292.8 670.3,290.9 670.1,289.0 671.0,288.5 668.9,286.4 669.4,284.8 669.5,282.7 668.4,281.7 668.5,280.5 667.8,278.6 668.3,277.3 667.5,275.7 668.0,273.7 667.8,272.3 667.0,270.5 666.6,269.7 666.4,266.6 665.7,265.4 664.4,264.1 664.9,263.2 663.7,262.0 663.3,259.9 661.5,258.0 662.2,255.4 662.4,254.2 661.5,253.3 660.4,251.0 661.4,249.4 661.5,248.3 661.8,246.2 661.7,244.9 662.1,243.7 661.6,242.3 662.0,240.3 661.4,238.3 661.8,237.6 662.1,236.1 661.1,233.8 661.5,233.4 660.4,230.2 660.4,229.5 660.3,227.5 660.9,225.4 659.9,225.2 661.1,223.4 659.8,220.6 660.9,219.9 661.9,218.1 662.1,216.3 661.4,214.5 661.4,212.8 662.6,211.5 661.5,210.2 662.5,208.3 661.9,206.7 662.1,204.6 663.4,203.3 662.8,201.1 662.5,200.6 661.1,198.6 661.8,196.4 661.6,195.0 661.3,193.8 662.0,192.6 660.2,191.1 661.0,189.2 660.7,187.4 660.1,186.1 661.3,184.8 659.5,183.1 660.0,181.0 659.8,179.3 658.6,178.7 658.7,176.7 658.9,175.5 659.5,173.4 659.1,170.2 658.9,170.0 658.5,168.6 657.0,167.3 658.1,165.7 657.6,164.5 658.3,162.0 658.3,160.5 658.6,158.2 657.8,157.9 657.7,155.4 656.5,153.6 657.2,153.2 656.1,150.7 657.3,149.7 655.9,147.5 656.1,145.4 655.8,144.4 655.7,142.6 656.0,141.2 655.1,139.4 655.1,137.3 654.3,136.4 655.2,134.4 653.8,133.0 654.2,131.0 654.5,130.3 651.4,128.9 651.6,127.5 651.2,125.5 651.3,123.6 649.9,122.6 649.7,120.7 648.8,120.2 648.8,118.3 647.4,117.2 647.9,115.1 645.5,113.9 645.6,112.4 647.3,110.9 646.0,109.0 645.1,107.7 646.3,105.4 645.5,104.3 645.1,102.1 644.0,101.1 644.5,100.2 644.0,97.9 642.7,97.1 643.3,94.3 642.5,92.7 643.0,91.5 642.5,89.8 641.2,89.2 640.8,88.0 640.8,85.7 640.6,84.0 639.8,83.0 639.5,80.8 639.6,79.1 639.3,77.3 639.5,75.4 639.0,74.1 638.3,73.0 637.7,71.2 639.0,69.4 638.2,68.4 637.9,65.9 637.8,64.5 636.9,63.4 637.4,61.9 636.0,58.7 637.2,58.1 636.9,56.5 638.3,54.4 637.5,53.2 637.1,52.0 637.2,50.1 637.4,49.1 636.3,47.0 636.5,46.3 636.1,43.9 637.3,42.1 635.9,41.5 634.4,38.7 635.8,38.1 636.5,35.6 634.5,34.8 636.8,32.6 634.8,31.6 635.2,28.7 634.4,27.8"/>
<polyline stroke="#A2142F" points="176.3,362.2 174.4,364.6 174.3,364.7 174.0,365.7 174.0,365.5 173.0,368.0 171.9,368.8 171.6,370.9 171.0,371.4 169.8,374.1 169.7,375.3 167.7,376.3 165.4,374.7 163.9,376.8 162.5,377.2 160.5,376.2 159.1,378.0 157.2,379.2 156.5,380.7 154.7,380.4 154.1,381.4 152.2,381.8 152.2,382.5 153.0,382.8 153.1,384.1 154.2,384.9 155.0,384.7 155.9,386.5 159.0,386.0 160.8,386.3 161.3,386.7 163.8,386.0 165.9,386.1 167.9,386.3 168.9,386.5 169.7,386.3 172.6,386.3 173.5,387.1 175.9,387.1 177.0,386.9 179.2,386.7 180.9,387.4 182.4,387.3 182.9,387.1 184.8,388.1 185.2,388.5 185.1,388.7 186.6,388.0 188.0,387.9 190.0,388.1 191.7,387.6 192.2,387.7 194.9,388.2 196.2,388.1 197.3,388.9 200.0,388.3 200.7,388.9 201.9,388.5 203.3,388.1 205.4,387.6 207.0,388.3 208.5,387.9 209.7,388.2 212.2,387.9 214.1,389.1 214.5,389.8 216.7,389.4 218.6,391.0 220.8,390.1 221.3,390.9 222.7,390.3 224.6,390.3 227.2,392.5 228.0,392.2 229.6,392.0 231.8,390.4 231.8,391.5 233.4,391.6 236.3,391.3 237.8,391.4 238.5,390.8 240.9,391.1 242.3,390.5 244.0,390.8 245.2,391.0 246.9,390.3 248.3,390.3 250.3,389.9 251.8,389.8 254.2,389.8 255.4,389.0 256.1,388.7 258.5,387.3 260.5,387.7 261.7,388.3 263.6,387.6 264.7,388.2 266.5,388.4 267.5,390.1 269.7,389.4 270.4,389.6 273.2,390.1 273.7,390.5 275.0,390.0 277.7,389.7 279.0,389.2 280.7,388.9 282.5,388.8 284.0,389.0 285.3,389.3 287.2,390.3 288.8,390.6 290.4,391.2 292.6,392.0 293.1,391.6 295.1,391.0 296.7,391.2 297.7,390.7 298.8,390.0 300.8,390.4 302.7,389.1 303.8,388.7 305.8,388.2 307.1,388.9 309.0,387.8 310.3,388.3 311.7,387.5 313.7,387.1 315.3,387.6 317.4,387.6 317.8,387.4 320.3,387.1 322.3,387.8 323.9,387.7 324.7,388.4 326.1,389.0 327.5,390.2 329.3,390.8 330.9,391.0 332.3,391.8 333.9,392.2 334.1,393.8 335.7,394.0 336.7,395.3 338.6,395.2 340.4,396.4 341.6,397.6 344.0,398.7 344.6,399.2 346.1,399.4 347.2,401.5 348.1,401.6 349.4,403.2 351.1,404.1 352.8,404.7 352.8,406.6 353.4,407.8 355.1,408.0 356.2,409.8 356.7,411.2 357.7,413.1 359.1,413.8 358.4,416.3 359.2,416.7 361.0,418.9 362.0,419.5 361.4,421.1 361.1,422.9 362.1,424.7 362.2,427.0 363.4,428.3 362.7,429.2 363.7,431.3 361.9,433.0 362.6,433.9 364.1,435.6 364.1,436.8 363.2,439.0 363.6,439.8 364.2,442.2 364.0,443.7 363.5,445.5 364.5,446.9 365.9,449.1 365.1,450.3 366.0,452.0 366.0,453.8 365.8,455.6 366.4,457.0 367.2,457.9 367.2,459.4 368.3,460.8 368.4,462.7 369.6,464.1 370.1,465.6 371.5,467.2 371.7,468.5 373.5,470.1 374.3,471.2 375.2,471.7 376.6,473.4 377.1,472.7 378.8,476.5 380.7,475.6 382.0,476.8 382.8,476.9 386.0,478.0 386.4,478.6 388.1,478.5 390.2,479.0 391.4,478.6 392.7,478.9 394.9,478.9 395.7,480.4 398.2,478.8 399.5,478.9 401.5,479.6 402.1,480.1 404.8,478.5 406.0,478.5 408.3,479.4 408.8,479.4 411.5,478.3 412.6,477.9 414.2,478.1 415.2,478.7 417.3,478.0 418.9,478.1 419.8,477.4 421.3,477.2 423.0,477.3 425.4,476.6 426.5,476.5 428.3,475.6 429.6,475.5 431.2,475.7 432.7,474.9 434.0,474.3 436.3,474.6 437.5,474.2 439.0,473.6 439.9,473.0 442.3,473.5 443.6,474.1 445.1,472.1 447.3,471.5 448.1,471.7 450.0,471.5 452.0,471.1 453.8,471.1 454.8,472.2 456.8,472.2 458.4,472.6 459.4,472.3 460.6,471.7 462.4,472.5 464.9,471.4 466.3,471.3 467.3,470.7 469.2,471.6 470.9,471.2 472.4,470.1 474.1,470.0 476.6,469.9 477.0,470.0 478.9,470.3 480.1,470.0 481.8,470.3 483.2,469.5 485.1,470.3 486.5,469.7 488.8,471.6 490.3,471.5 491.4,471.4 494.2,471.6 494.7,472.3 496.9,471.8 499.1,470.6 499.6,471.5 502.0,470.4 503.7,471.2 504.9,471.0 505.7,471.7 508.6,471.8 509.6,471.1 511.0,471.5 513.4,471.7 514.1,471.5 516.5,471.3 517.3,470.1 519.4,470.9 520.4,471.3 522.3,470.8 523.6,469.7 525.3,470.1 527.3,470.2 528.7,469.4 530.5,470.1 532.5,469.3 533.5,469.5 534.4,469.7 536.7,470.9 538.4,469.7 540.4,469.6 542.0,470.4 543.6,469.8 544.7,470.2 546.7,469.0 547.4,470.4 550.1,470.2 551.4,469.6 553.1,471.1 554.3,470.3 556.1,470.3 557.4,469.6 559.5,469.3 560.4,469.8 562.9,469.1 564.4,470.0 566.6,469.9 567.3,468.9 568.8,468.1 570.6,468.4 572.0,467.8 573.6,468.2 574.8,467.9 576.4,467.3 578.2,467.3 579.9,467.6 581.2,467.8 582.7,466.6 584.7,467.2 586.7,466.7 587.9,466.4 589.9,467.7 591.6,467.4 593.1,467.3 594.2,467.5 595.8,467.3 596.8,466.9 599.0,468.4 601.1,468.0 602.0,467.7 604.7,468.0 606.4,468.1 607.2,467.4 609.4,467.7 610.0,467.2 611.9,467.6 613.7,467.0 615.7,468.3 617.0,466.7 618.5,467.0 621.2,466.6 622.1,466.2 623.9,466.7 625.6,466.0 627.0,465.7 628.5,465.7 629.9,465.2 631.3,466.1 634.1,465.2 634.9,465.4 635.9,464.1 638.1,464.5 639.2,463.9 642.4,463.8 643.7,464.5 645.7,463.8 647.5,463.5 649.2,464.2 651.0,463.9 652.6,464.1 653.8,461.7 655.9,462.1 657.7,460.8 659.0,459.7 661.7,458.6 662.8,457.0 663.8,455.5 665.5,455.2 668.1,453.3 670.6,452.4 670.9,450.4 671.9,449.1 673.2,446.8 675.3,445.4 676.0,445.0 677.7,442.6 677.7,441.5 679.2,439.2 679.5,436.5 681.1,435.6 680.7,433.2 680.3,431.4 682.6,429.7 682.6,426.7 682.6,425.1 682.7,423.9 682.2,422.0 683.5,420.0 682.7,417.3 684.4,416.3 683.6,414.2 682.6,413.0 683.9,411.7 684.2,408.9 682.8,407.9 683.1,406.6 682.0,405.0 681.4,403.5 680.0,401.9 681.7,400.8 680.6,398.2 680.8,397.0 679.9,395.2 679.9,394.2 680.8,392.4 679.9,390.8 679.8,388.8 679.1,387.4 679.7,386.0 679.9,384.8 679.2,383.4 679.3,381.6 678.7,379.9 680.0,378.3 678.8,376.9 679.0,374.1 679.7,373.0 678.5,372.3 677.5,370.3 677.6,368.7 677.6,366.5 678.5,364.5 677.4,363.7 677.0,361.4 677.4,360.2 677.5,358.0 676.3,356.3 677.3,355.1 676.9,353.3 676.6,352.0 675.0,350.6 676.2,349.2 676.7,347.0 675.7,345.6 677.0,344.1 675.7,342.4 675.1,340.9 675.9,339.6 675.7,337.8 675.9,335.5 675.4,334.5 676.3,332.2 675.4,331.6 675.8,330.1 675.1,327.9 675.3,326.1 675.8,325.0 675.2,322.9 675.2,321.2 675.2,319.5 675.3,318.3 675.5,316.7 675.4,315.7 675.5,313.4 675.0,311.7 674.5,309.6 674.0,309.1 674.6,307.3 674.2,305.7 673.4,303.4 675.2,303.0 673.0,301.0 673.6,298.0 673.5,296.9 672.8,296.1 673.8,293.8 672.1,292.1 671.3,290.7 672.2,289.2 670.4,288.1 669.5,286.0 669.3,284.8 669.0,282.9 668.9,281.4 668.8,280.2 667.4,278.0 668.2,277.1 668.9,275.0 667.3,274.0 667.4,272.3 667.8,270.7 667.9,269.2 666.8,267.3 666.6,265.3 666.4,263.5 667.4,262.1 667.2,261.1 665.5,258.9 665.5,257.7 665.9,255.6 665.7,255.2 666.7,252.5 666.6,251.7 667.6,249.4 666.9,248.4 666.6,246.3 667.2,245.1 666.1,244.2 665.8,242.2 666.5,240.3 666.9,238.6 665.5,237.9 666.8,235.8 666.7,234.0 665.9,232.3 666.2,230.5 665.9,229.3 666.0,227.9 666.3,225.6 665.3,224.3 666.0,222.1 665.7,221.1 665.3,219.1 663.5,218.3 663.2,216.2 664.2,214.6 663.2,212.9 662.9,211.9 662.6,210.0 662.1,208.7 662.5,206.8 662.1,204.9 661.9,202.4 662.5,201.9 661.4,200.1 662.3,198.6 660.2,196.8 662.4,195.2 660.0,193.6 660.7,192.2 660.6,189.8 660.0,188.7 660.4,188.3 659.8,185.9 659.0,184.5 660.3,183.7 660.7,181.4 659.8,179.8 659.1,178.4 659.5,176.4 659.8,175.5 659.3,172.9 659.3,171.3 658.5,169.9 658.1,168.6 656.3,167.2 658.1,165.4 656.5,163.4 656.6,162.0 655.5,159.9 655.4,159.3 655.1,157.0 655.7,156.1 655.4,154.4 654.7,153.2 655.1,150.9 653.6,149.8 653.7,147.9 652.8,146.2 653.4,145.1 652.2,143.6 652.1,141.7 652.1,140.5 649.6,139.8 651.1,137.3 649.5,136.0 648.6,134.5 647.2,133.2 647.7,132.0 646.0,130.3 646.6,128.1 646.1,127.3 646.5,125.1 645.0,124.2 645.1,122.2 644.6,120.0 644.7,118.9 643.1,118.1 643.0,115.9 641.4,114.5 641.2,112.6 641.4,111.9 641.2,110.1 640.2,108.3 640.4,107.3 640.4,104.6 639.6,104.5 639.2,102.5 638.4,101.4 639.0,99.3 638.4,97.2 637.1,96.0 636.5,94.3 637.1,92.6 636.5,92.1 635.6,89.6 635.3,88.8 635.6,86.5 637.2,84.6 635.8,83.2 637.8,80.8 636.5,79.9 636.6,77.2 637.8,75.9 637.2,74.1 637.8,72.6 637.3,71.0 637.3,69.7 637.6,67.3 638.1,66.9 637.5,64.7 636.7,63.3 637.9,61.7 637.4,59.9 637.2,58.8 636.9,56.6 635.8,55.1 637.8,53.5 636.5,51.8 637.0,50.9 637.3,49.5 637.0,47.4 636.3,45.8 635.8,43.1 635.9,42.6 636.0,40.5 635.6,39.0 634.7,37.0 635.0,36.1 634.7,34.3 634.6,33.1 634.0,31.8 634.4,30.2 633.6,28.5"/>
<polyline stroke="#77AC30" points="171.9,360.1 170.4,362.1 170.0,361.7 168.5,362.7 168.0,363.3 167.9,364.3 167.2,365.0 166.5,365.9 165.5,365.8 165.0,367.7 164.1,369.1 162.0,368.7 160.5,370.8 158.8,372.5 158.5,374.0 155.5,374.2 153.8,375.5 153.4,377.3 153.0,378.1 151.2,378.3 151.4,379.3 150.6,381.3 151.0,382.1 152.4,383.0 152.1,384.5 152.4,386.1 153.3,387.0 154.3,388.0 155.0,388.9 155.6,388.9 156.8,391.5 159.7,391.9 159.4,392.7 161.6,392.4 162.0,393.0 164.6,393.9 166.0,394.9 167.3,394.3 170.1,396.5 170.0,396.6 171.6,397.6 172.3,397.4 173.4,398.6 174.8,397.7 175.9,397.3 177.7,398.0 180.3,397.0 180.2,396.4 181.9,396.5 183.4,396.1 184.7,396.1 186.4,396.5 187.4,396.0 188.7,396.0 190.3,396.5 193.5,396.0 193.7,396.3 195.4,396.0 197.4,395.4 198.7,395.7 199.7,395.6 200.7,397.3 201.8,397.0 203.8,396.4 205.1,396.7 207.3,396.6 208.7,396.0 211.3,396.6 213.0,396.0 214.3,396.1 214.9,395.7 216.3,395.5 218.4,394.9 219.7,393.8 222.2,395.5 223.3,395.0 224.8,396.1 226.4,393.8 228.6,395.2 229.3,394.2 231.5,394.5 232.3,393.9 234.4,394.4 235.8,394.0 237.8,394.4 239.4,394.0 241.4,394.2 242.8,394.8 243.9,394.5 245.2,394.3 247.1,395.1 248.8,394.5 250.5,395.0 251.9,394.8 254.2,394.8 255.7,393.8 256.8,396.1 258.3,395.3 260.0,396.6 261.8,397.5 263.4,396.1 264.5,397.5 266.6,397.2 267.8,397.6 270.3,396.6 272.4,397.1 273.6,397.1 275.9,397.5 277.3,397.7 278.6,396.5 280.9,395.8 281.8,397.1 282.6,395.8 283.2,395.7 284.6,395.7 285.7,395.8 287.5,395.9 288.9,395.1 290.9,395.4 292.6,396.3 294.2,395.9 297.4,394.8 298.9,394.1 299.9,393.4 301.5,393.5 303.1,392.1 304.7,391.9 306.2,391.2 307.4,390.9 309.3,390.9 311.1,390.6 312.6,390.2 313.1,390.6 315.3,390.7 316.3,390.5 317.7,390.6 319.4,391.2 320.6,391.9 322.6,392.6 324.2,392.4 325.5,392.3 326.9,392.4 329.1,393.7 330.8,393.3 332.1,392.3 333.3,392.8 335.4,393.1 337.1,393.7 338.4,393.2 340.2,395.0 341.6,394.6 343.2,395.9 343.5,397.2 345.3,398.0 347.1,397.9 348.7,398.9 350.3,400.2 351.5,400.3 352.7,401.8 354.0,403.4 355.5,403.9 356.7,406.4 357.5,406.2 359.8,408.7 359.2,409.7 360.9,411.5 362.2,413.1 361.8,414.7 362.4,415.6 364.1,417.2 364.1,419.2 365.1,421.0 366.1,422.7 364.7,424.9 365.4,426.6 367.1,427.1 366.6,429.6 367.8,430.1 366.5,432.6 367.2,433.7 367.4,435.1 366.6,437.8 367.2,439.0 367.4,440.9 366.5,441.6 367.1,443.3 366.4,445.4 366.8,446.7 366.4,448.6 366.5,449.9 366.5,451.6 367.6,452.6 366.6,455.5 367.9,456.1 367.2,457.6 369.1,459.4 369.5,460.8 370.0,462.2 369.9,464.0 371.2,464.9 371.5,466.6 372.7,466.8 373.1,468.7 373.8,470.4 375.4,471.9 377.4,472.5 377.4,474.3 379.2,474.5 380.4,476.9 381.9,476.3 383.3,478.3 385.1,478.0 386.0,478.2 388.3,478.4 389.8,479.2 390.8,479.9 392.6,479.2 393.9,481.3 396.7,480.6 398.5,481.5 399.7,480.3 401.5,482.2 401.9,482.3 404.7,482.1 406.5,482.1 408.0,481.7 408.6,481.9 411.0,482.4 412.2,481.5 414.3,482.1 415.2,482.2 417.1,481.6 418.5,481.8 420.5,481.6 421.9,481.1 424.1,482.4 425.5,480.5 427.0,481.3 428.4,480.6 429.7,478.5 431.5,479.4 433.4,479.5 434.7,479.2 436.3,478.0 437.8,478.5 439.3,477.5 440.7,477.5 441.9,477.8 444.5,477.8 446.1,478.4 447.0,477.6 449.8,477.5 450.0,476.1 452.5,475.6 453.8,475.6 455.5,476.4 457.3,474.2 458.8,473.8 460.1,474.3 461.3,474.7 462.7,472.8 464.9,473.2 467.0,472.3 468.4,473.6 469.6,472.9 471.3,472.3 473.0,471.7 474.9,471.3 475.5,471.3 477.6,470.6 479.0,470.4 480.1,470.1 481.6,470.5 484.1,469.6 485.4,470.3 486.5,468.3 488.3,469.4 490.3,468.9 491.5,469.0 493.6,467.8 494.3,466.8 495.8,466.8 497.8,467.6 499.0,466.6 500.8,466.2 503.0,465.8 504.9,465.8 506.0,465.4 507.4,464.4 508.6,464.8 510.3,465.4 512.5,465.5 513.9,464.5 515.2,464.2 516.9,465.1 519.3,464.1 520.6,463.4 521.9,463.9 523.6,464.2 525.6,464.5 526.8,463.2 528.4,463.6 529.3,463.0 530.9,463.7 532.4,463.2 533.9,463.2 536.4,462.5 538.2,462.9 539.4,462.8 541.5,460.9 543.2,463.3 544.6,462.7 545.7,462.5 548.5,462.3 550.0,462.4 550.8,462.6 553.4,461.7 554.2,462.6 555.5,462.7 557.1,462.8 558.1,462.0 560.2,462.8 561.2,462.2 564.0,463.0 565.3,463.5 566.1,463.2 568.4,462.4 569.1,462.3 571.4,462.1 573.2,462.6 574.7,462.0 575.8,462.2 577.8,461.2 579.5,462.2 581.3,462.3 583.5,462.5 585.3,463.6 586.8,462.4 587.6,462.6 589.2,463.8 591.1,463.0 592.9,463.6 593.5,463.9 595.7,463.9 598.2,463.5 598.6,464.6 600.4,465.0 602.0,463.7 604.1,464.1 605.5,464.9 607.0,464.4 608.1,464.1 610.6,464.5 612.0,465.3 613.2,464.3 615.2,464.9 617.2,464.9 617.8,464.3 619.4,464.7 621.2,464.4 622.9,464.2 623.6,464.0 625.9,462.1 628.4,462.9 629.4,462.5 631.5,462.2 631.3,461.2 634.2,461.5 636.3,460.7 637.7,459.4 638.8,460.5 639.9,459.0 641.8,458.3 643.0,458.8 644.7,457.8 646.0,458.1 648.2,457.2 649.8,457.1 652.2,456.6 653.1,455.8 654.6,455.8 656.3,454.9 656.8,453.5 659.2,452.9 660.4,451.7 661.6,450.1 663.2,448.9 663.7,448.6 664.8,446.1 664.7,443.8 666.0,443.6 667.0,440.8 667.2,440.2 668.8,437.7 668.8,436.7 670.5,435.5 670.4,434.0 670.9,432.1 671.6,431.4 672.1,429.7 672.7,428.6 672.9,425.9 672.8,424.7 673.1,422.5 672.0,420.8 672.4,420.0 673.9,417.6 673.2,416.1 674.4,414.5 674.4,412.7 672.7,411.3 673.6,409.7 675.2,407.6 673.2,406.9 674.0,405.4 673.8,403.6 673.8,401.3 673.9,400.3 674.1,397.8 674.5,398.2 673.6,395.7 674.3,394.0 673.6,392.1 674.3,390.1 674.1,389.1 673.5,387.8 674.0,385.5 673.6,383.6 673.6,383.6 674.9,380.8 673.3,379.3 674.8,378.2 675.1,376.4 674.5,374.5 675.6,373.0 675.6,371.5 674.4,370.2 675.5,368.0 675.4,366.8 674.6,364.9 675.2,363.5 675.1,361.6 674.2,359.8 673.4,358.4 674.6,356.6 673.9,355.8 673.3,353.5 673.9,351.9 672.8,350.7 673.9,348.9 675.0,348.3 672.6,345.6 674.6,344.2 674.0,343.3 674.4,340.6 674.4,339.5 675.5,337.5 675.3,336.1 675.0,334.2 674.8,332.7 675.3,331.3 676.2,329.4 674.8,327.6 675.8,327.3 675.7,324.7 674.4,323.4 676.2,322.0 675.6,319.4 677.0,317.9 676.9,317.1 676.0,315.5 676.2,313.1 675.9,312.0 675.8,310.3 677.1,309.2 676.5,306.9 676.4,304.7 676.6,303.6 677.1,301.8 677.2,299.3 676.6,298.1 676.3,296.2 676.3,294.8 677.1,292.8 674.6,292.7 674.7,290.7 675.3,289.3 674.6,286.2 675.1,285.3 675.0,283.8 675.3,282.5 673.6,281.2 674.4,280.3 673.5,276.8 674.2,276.1 673.5,274.6 673.5,273.7 672.1,271.8 672.1,270.1 671.2,268.8 670.8,267.0 670.2,266.0 669.4,264.0 670.3,262.2 669.5,260.8 669.6,259.3 668.2,257.9 667.4,256.7 667.8,254.4 667.9,253.2 668.1,251.8 668.1,249.5 668.0,248.9 668.0,246.9 667.4,244.7 667.0,243.0 666.3,242.0 667.0,240.2 666.1,238.4 665.8,237.0 666.3,235.7 665.8,233.6 665.9,232.1 664.8,230.6 665.6,228.5 664.9,227.3 664.4,226.0 663.8,224.2 663.2,222.0 662.7,221.5 663.7,219.6 661.6,218.4 662.0,216.3 660.9,215.5 659.9,213.3 659.3,211.6 658.8,210.7 658.7,209.1 657.9,207.9 656.9,205.7 655.6,204.7 654.8,203.0 656.4,201.1 654.3,199.8 653.4,197.7 654.4,195.6 652.6,195.7 653.5,193.4 653.2,191.4 652.7,190.4 652.9,188.6 651.5,186.9 651.4,184.8 651.9,183.3 652.1,182.3 652.1,180.6 652.5,179.2 651.9,177.6 651.2,176.5 652.7,174.9 652.1,172.9 652.4,170.6 652.8,169.0 651.3,168.7 650.9,166.4 649.5,165.1 649.9,163.0 649.1,162.0 648.5,159.6 648.5,158.5 647.1,156.8 647.8,155.1 647.7,154.7 648.1,152.5 646.2,150.7 647.4,149.6 648.9,147.4 647.9,146.3 648.5,145.0 649.9,142.7 650.5,140.5 649.4,139.1 649.0,137.5 649.4,136.8 649.2,134.3 649.3,133.5 649.2,131.3 649.8,129.5 649.7,127.5 649.9,125.9 649.3,124.0 648.6,123.3 649.2,121.0 648.6,119.7 647.9,118.4 647.9,117.2 647.9,114.9 647.6,113.4 647.5,111.7 648.1,110.3 648.3,108.7 647.5,106.9 647.6,105.2 646.9,103.6 647.1,101.4 647.4,100.7 647.0,98.0 646.7,98.5 645.7,95.4 645.1,94.6 644.9,91.9 644.0,91.7 644.2,89.2 644.0,88.5 643.3,87.1 643.7,84.7 643.3,83.1 643.7,82.1 642.8,79.4 643.3,78.9 643.8,76.5 643.0,76.0 643.3,74.4 642.3,72.5 642.5,71.4 641.5,69.2 642.5,68.6 641.8,66.1 642.5,64.8 641.3,63.4 641.9,61.2 642.3,59.7 642.4,58.2 641.0,56.1 641.5,54.6 642.9,52.8 641.6,50.9 641.1,49.9 639.1,48.2 639.9,47.0 640.4,44.9 640.0,43.4 640.0,42.2 640.2,41.0 639.6,39.3 639.9,37.6 638.3,35.6 640.7,34.0 639.1,32.7 638.8,30.8 639.9,29.0 639.2,27.2 639.4,26.4"/>
<polyline stroke="#4DBEEE" points="170.3,355.8 168.7,356.9 166.6,359.1 165.9,359.8 164.6,360.5 163.3,360.5 161.9,361.4 162.0,361.9 159.9,361.9 159.5,361.3 158.7,361.8 157.1,362.9 156.0,364.6 155.9,364.7 154.7,366.0 153.2,367.6 151.1,368.3 150.6,369.3 150.0,371.7 149.4,373.0 149.1,374.7 148.1,376.4 147.7,378.2 147.6,378.8 145.6,379.6 147.9,379.3 148.2,380.2 149.9,380.0 151.2,380.7 152.1,380.5 154.0,381.0 156.6,381.2 158.3,381.8 160.6,382.1 161.5,382.3 163.9,382.3 163.7,382.8 165.8,382.7 165.6,383.8 167.6,384.2 169.4,383.9 169.7,384.2 171.3,385.7 173.4,386.2 175.1,386.6 176.5,387.7 177.3,387.0 178.7,386.9 178.8,387.9 180.6,388.4 183.0,388.8 183.4,387.5 184.9,388.0 185.5,388.0 187.5,389.1 188.1,388.8 190.4,388.4 192.3,388.7 193.2,388.1 194.6,388.2 195.9,388.4 198.0,388.5 198.8,389.0 200.7,389.5 203.5,389.7 203.7,389.9 205.3,391.5 207.2,390.2 208.7,390.3 210.5,390.2 213.0,390.5 213.3,390.5 214.9,390.0 216.9,390.7 217.5,389.7 220.2,390.6 221.2,390.0 222.5,390.9 224.3,390.2 226.5,390.3 228.3,391.5 230.0,390.1 231.2,390.1 232.4,391.2 234.5,390.8 235.9,390.9 238.5,391.1 238.4,392.5 241.4,390.8 242.7,391.3 244.1,391.5 245.5,390.8 246.9,391.2 248.4,391.3 249.7,390.4 252.9,391.2 254.0,389.8 255.5,390.2 257.0,390.4 257.7,391.9 259.9,389.1 261.7,390.2 263.7,391.4 264.4,389.8 266.5,390.7 267.8,390.3 269.4,389.3 270.8,390.2 272.7,389.2 274.2,389.5 274.8,388.5 278.0,389.2 279.7,387.2 280.3,388.4 282.9,389.1 283.6,388.8 285.6,388.6 288.1,389.2 289.1,389.4 290.8,391.7 292.2,390.5 294.0,390.8 295.0,390.5 297.1,390.6 298.8,390.9 299.6,390.0 300.6,389.6 302.2,389.2 303.6,389.0 305.9,388.6 307.4,387.9 308.6,387.8 310.8,387.1 312.0,388.0 314.5,387.1 315.6,386.8 317.6,387.1 318.3,386.8 319.9,386.1 321.1,387.0 323.5,388.3 324.6,387.8 327.1,388.6 328.5,387.8 330.5,387.7 331.2,388.3 332.7,390.0 335.1,389.5 336.8,390.4 337.1,391.7 339.5,392.2 340.5,392.8 342.3,394.3 343.5,394.7 345.1,395.4 346.6,396.6 348.5,397.3 349.3,398.1 350.8,399.9 352.1,399.7 353.3,401.6 354.5,402.1 355.2,404.6 356.0,405.5 357.1,407.3 358.2,409.0 358.8,409.8 359.7,410.9 361.6,412.7 361.6,414.9 363.1,416.0 361.9,417.8 363.6,419.8 363.8,421.1 365.2,422.9 364.2,424.2 364.7,426.4 366.6,428.1 366.3,429.0 366.6,430.8 367.1,432.8 366.2,434.5 365.7,436.1 367.3,437.4 365.7,438.5 366.0,440.7 364.6,442.0 366.3,443.9 364.8,444.7 363.9,448.0 364.9,449.7 363.9,450.9 364.8,451.8 364.2,453.9 364.9,455.9 365.8,457.2 366.1,458.2 366.5,460.7 366.2,462.4 367.2,463.7 367.9,464.9 366.8,467.7 369.7,467.6 370.3,469.8 370.8,471.1 373.2,472.4 373.8,473.7 375.4,474.6 377.2,475.1 378.2,476.9 379.4,476.7 381.9,478.1 382.6,479.8 384.3,479.3 385.5,481.0 387.2,482.1 388.9,482.6 390.8,482.9 392.2,482.8 394.4,482.4 396.0,483.2 397.3,483.2 400.2,482.5 400.9,481.8 402.6,482.5 404.3,481.1 405.7,481.6 407.7,480.8 409.7,479.9 410.6,481.4 411.9,480.7 414.1,480.5 414.6,479.2 417.2,479.8 418.6,479.9 420.4,479.3 421.3,480.5 423.2,478.3 424.7,479.7 426.4,478.1 428.4,478.0 429.7,478.1 431.2,478.9 433.5,478.0 434.6,477.9 435.4,477.8 437.3,477.3 439.5,477.4 441.2,477.2 442.7,477.5 444.3,477.3 445.3,476.1 447.3,476.9 448.6,477.8 450.3,476.8 451.8,476.9 453.4,476.4 455.2,476.2 456.9,476.3 458.2,475.5 460.6,475.9 461.5,475.0 464.0,476.0 465.3,474.9 466.1,476.1 468.6,476.3 469.2,474.8 472.0,476.0 473.1,475.3 474.3,476.2 475.3,475.2 477.6,475.1 478.8,474.9 481.5,475.4 481.9,473.6 484.1,474.8 485.9,474.2 487.3,473.8 489.0,473.7 490.5,474.2 492.5,473.9 493.4,474.2 495.5,472.6 496.2,471.7 498.5,472.2 499.6,472.3 501.5,471.9 503.5,472.7 505.5,473.1 505.7,472.1 507.6,470.8 509.3,472.3 511.7,471.2 512.5,471.6 514.8,471.9 515.9,471.7 517.1,471.4 519.3,471.5 520.4,471.6 522.8,471.3 524.5,471.9 526.0,468.9 526.8,470.0 529.4,469.9 530.8,470.4 531.3,470.0 534.5,470.1 535.8,468.8 536.4,469.4 538.5,469.8 539.4,469.4 541.5,469.1 543.3,469.4 545.1,470.0 546.0,467.9 548.0,469.8 549.2,468.9 551.3,468.2 553.1,468.9 554.4,468.4 556.5,468.8 557.9,467.6 559.4,468.5 561.2,467.4 561.9,468.1 564.0,468.3 564.9,468.0 567.2,468.4 568.6,467.8 570.9,468.7 571.9,467.9 573.4,467.7 575.2,467.9 576.8,467.8 578.6,467.0 579.7,467.6 581.0,466.8 582.5,466.9 585.2,465.4 585.8,465.3 587.7,465.8 589.1,465.3 591.5,465.7 592.5,466.2 594.9,466.5 595.7,466.7 597.7,466.3 599.5,465.4 601.2,466.0 601.9,465.3 603.8,465.7 605.5,464.6 606.5,465.8 609.0,465.1 610.5,464.5 612.0,463.8 613.0,464.7 615.2,464.1 616.9,464.4 618.7,463.8 619.7,463.9 621.9,464.4 624.2,464.6 624.5,463.2 626.2,463.5 628.0,463.6 629.0,463.1 631.0,462.5 633.7,463.3 633.8,461.5 635.8,461.6 637.8,460.5 639.1,460.2 640.2,458.5 642.0,459.7 643.4,458.5 644.8,457.4 647.0,458.0 647.8,456.4 649.5,455.4 649.9,455.0 652.7,454.7 653.4,453.7 654.9,452.6 655.8,451.4 657.6,450.5 659.2,450.2 660.5,448.9 660.5,447.5 662.4,446.4 664.2,445.2 666.3,444.6 665.3,442.8 665.6,440.9 667.7,440.4 667.9,438.5 668.2,436.8 670.0,435.2 670.1,433.8 670.3,431.7 670.4,430.0 671.1,429.7 671.5,427.4 670.6,425.9 672.1,425.0 671.0,423.0 672.6,421.3 672.2,418.7 672.1,417.8 672.5,416.3 672.2,414.6 672.7,413.2 673.8,411.2 672.7,409.8 673.6,408.8 672.7,406.7 673.1,403.5 673.6,403.0 672.4,401.8 673.2,399.9 671.8,398.9 672.4,396.9 672.8,395.0 673.5,394.5 673.4,392.5 672.5,390.7 673.0,389.1 673.2,387.6 672.3,385.6 673.5,383.8 674.1,382.5 674.2,380.6 673.3,378.9 673.5,378.0 673.3,376.0 673.6,374.7 673.9,372.7 674.5,371.5 674.2,369.8 673.8,367.4 674.8,366.6 675.0,365.5 674.2,363.2 674.5,361.6 674.6,360.3 673.8,358.4 674.8,356.4 675.1,355.4 675.8,353.7 674.8,352.3 674.6,350.3 674.6,348.9 675.0,347.6 675.0,345.7 674.0,343.3 674.6,343.1 674.8,341.3 673.3,339.1 675.1,338.1 674.2,335.2 674.8,335.0 674.3,333.3 674.3,331.4 674.4,329.1 674.6,327.7 675.0,326.1 674.3,324.6 673.8,322.6 674.0,322.3 673.7,319.8 674.5,317.7 673.4,317.2 674.7,314.9 673.8,313.0 673.7,311.4 674.6,310.3 673.8,307.9 674.0,306.8 674.7,304.8 674.8,304.1 673.9,302.4 675.7,300.5 674.4,298.0 673.4,298.1 673.6,296.2 673.7,293.5 673.0,292.2 673.2,291.8 673.6,289.1 672.6,287.6 672.8,285.3 672.1,285.1 671.0,283.1 671.8,280.7 670.4,279.4 671.1,278.4 670.6,276.7 669.6,275.7 669.3,273.0 669.5,272.2 669.7,269.9 670.1,268.5 669.4,267.6 670.3,265.7 669.7,263.9 668.8,262.4 668.7,260.4 669.1,259.0 668.8,257.7 669.0,256.0 669.5,254.9 669.3,253.3 669.8,251.2 669.0,249.7 668.9,248.7 668.7,246.7 668.5,245.3 669.2,243.6 669.4,241.3 669.2,240.5 669.3,238.8 670.4,236.6 668.6,235.3 669.1,233.6 669.0,232.6 668.8,230.4 670.1,228.8 669.4,227.4 670.1,225.6 668.7,224.0 670.3,221.7 670.4,219.7 668.7,218.9 669.1,216.7 669.0,215.6 669.4,214.6 668.4,212.5 669.3,210.2 669.5,208.6 668.9,207.9 667.7,205.2 668.5,204.7 668.3,203.1 668.3,201.4 666.8,199.2 666.0,198.1 666.3,196.3 665.9,196.0 665.6,193.5 665.0,192.0 665.3,190.0 664.9,188.9 663.5,186.8 664.6,185.8 664.9,184.4 664.5,182.9 665.1,180.0 664.0,178.7 664.6,177.6 663.2,175.4 663.7,174.2 663.0,172.6 662.4,171.7 661.7,169.8 662.0,167.8 661.6,166.3 660.5,165.1 659.4,163.0 658.8,161.3 659.0,160.6 657.0,158.8 657.7,157.8 655.6,155.7 656.4,154.5 656.4,152.6 656.6,150.8 655.8,149.5 655.7,147.3 655.9,146.3 657.5,144.1 657.2,142.1 657.2,140.5 657.3,138.7 657.7,137.0 657.7,135.6 658.0,133.1 656.3,132.3 657.6,129.9 656.7,128.4 656.9,127.4 656.6,126.1 656.4,124.4 656.6,122.9 656.2,122.0 654.8,119.3 655.4,118.1 655.1,115.9 655.4,115.5 655.1,113.6 654.9,112.2 655.5,110.7 654.1,108.9 655.8,107.4 654.1,106.0 653.6,104.3 654.4,103.4 654.0,101.1 653.6,99.4 652.9,96.8 651.9,95.8 651.0,94.2 650.5,92.7 649.8,91.6 648.9,89.5 649.9,88.5 649.8,87.5 648.4,85.4 647.9,83.8 647.6,82.8 646.7,81.2 647.0,79.4 646.9,77.7 646.9,76.5 646.0,74.6 645.3,73.7 646.3,71.4 646.6,71.2 644.2,68.8 645.0,67.4 645.4,65.9 644.1,64.9 643.6,62.4 644.0,61.2 643.4,59.9 642.6,58.2 643.2,56.3 642.5,54.6 641.4,53.5 640.3,52.0 639.4,49.9 639.5,48.5 638.3,46.2 638.8,45.5 638.2,43.5 636.7,41.7 637.1,40.8 637.1,38.7 636.3,37.5 635.2,36.1 635.3,33.8 635.3,33.3 635.4,31.5 635.3,30.4"/>
<polyline stroke="#EDB120" points="176.4,358.4 176.5,359.2 174.7,359.0 174.0,360.2 172.7,361.5 173.4,363.6 172.9,363.7 170.8,364.9 170.5,365.8 169.8,367.2 168.6,368.0 168.9,370.1 168.4,371.8 167.4,373.5 166.2,373.8 165.6,375.6 164.5,376.8 161.9,376.8 160.5,377.2 158.6,376.1 154.8,378.3 154.2,379.1 153.0,379.5 150.2,380.0 150.3,381.0 149.1,382.7 149.6,381.5 149.9,382.0 150.6,382.9 151.9,382.8 155.5,381.9 155.6,383.1 158.0,383.3 160.6,382.8 161.9,383.6 163.5,383.9 164.0,383.5 165.9,385.2 166.8,386.7 168.0,387.2 170.5,386.4 172.3,386.6 173.1,387.4 174.6,387.5 176.2,386.7 177.3,386.9 177.3,388.0 179.4,387.6 180.5,388.1 181.4,387.7 182.5,388.4 185.0,387.8 186.8,387.8 188.8,387.4 189.2,386.7 191.4,387.2 191.7,386.7 193.4,387.3 194.6,387.9 196.3,388.1 198.7,388.2 199.4,387.7 201.8,387.6 202.9,387.9 204.0,387.7 205.3,388.5 207.7,387.2 208.9,387.6 210.2,389.2 211.6,387.9 213.0,388.9 214.5,389.4 216.9,389.2 218.0,389.6 219.7,392.2 221.7,391.7 223.0,393.0 225.0,392.7 226.2,393.7 227.8,392.9 230.0,392.8 230.9,393.1 233.1,393.3 234.6,393.3 236.0,393.5 237.0,394.0 238.7,393.5 240.5,394.3 241.9,393.5 244.5,394.3 245.4,394.8 246.9,395.1 248.7,393.2 250.5,395.5 251.4,393.7 254.0,395.7 255.6,395.1 256.7,395.6 258.8,395.0 259.5,396.3 261.5,396.2 263.3,395.6 265.0,395.6 267.2,396.4 268.3,396.4 269.8,396.1 271.9,395.0 273.6,394.7 275.4,394.6 276.6,393.9 278.3,393.4 279.3,392.3 281.1,391.3 282.1,391.5 283.5,391.3 285.8,390.8 286.6,391.1 288.7,390.6 290.4,391.5 291.7,391.3 293.6,393.1 294.7,392.8 297.0,392.3 297.4,391.3 299.0,391.1 301.4,391.5 303.4,390.3 305.1,390.0 305.4,389.0 307.3,388.6 309.0,389.3 309.9,389.1 312.5,388.3 313.6,388.8 315.9,389.9 316.8,389.6 317.9,390.7 319.1,391.8 320.8,391.8 322.5,392.3 323.7,392.5 326.2,394.6 326.9,393.6 327.6,394.4 329.2,395.8 331.0,395.8 331.3,397.5 332.6,397.2 333.3,398.4 334.7,398.7 335.8,399.4 337.3,400.5 339.5,400.6 340.3,401.6 342.1,403.2 342.0,404.8 343.5,404.8 344.9,405.7 347.2,406.2 346.7,406.9 348.4,408.4 350.4,409.9 350.2,411.0 352.6,410.0 353.7,411.6 354.2,412.9 355.9,415.1 355.5,415.4 356.0,417.0 356.9,418.2 357.2,419.2 357.4,419.9 358.0,422.6 359.2,424.2 359.5,425.3 358.8,427.4 359.8,428.8 360.2,430.3 359.5,431.0 360.0,433.9 359.6,435.2 359.7,436.8 359.4,438.1 359.3,439.7 360.4,441.0 360.8,443.0 359.4,445.0 360.8,445.9 361.6,448.1 361.9,449.1 361.3,451.4 361.9,452.7 363.0,454.6 363.1,456.8 363.6,457.7 363.0,459.3 364.3,460.8 365.5,462.6 367.1,463.3 367.9,465.4 368.6,466.7 370.1,468.1 370.6,469.1 372.2,469.8 373.2,471.2 375.0,472.4 376.4,472.6 377.7,474.6 378.4,474.2 380.3,475.3 382.5,474.9 383.4,475.0 385.3,475.9 386.6,475.7 388.6,476.7 390.1,476.6 392.0,477.2 393.0,476.7 394.4,475.6 396.3,476.7 398.2,475.7 399.8,475.6 401.4,476.1 403.4,476.2 404.3,476.9 405.9,478.0 407.2,476.7 408.9,477.4 411.2,476.6 412.5,476.9 412.8,476.4 416.0,476.4 416.2,477.3 418.4,476.7 420.6,476.6 421.7,475.8 423.5,477.1 425.2,475.9 426.5,475.6 427.4,475.9 429.7,476.1 430.9,476.1 431.8,476.4 434.1,474.8 436.1,475.0 437.6,476.0 439.2,476.3 441.4,474.5 442.4,474.9 444.2,474.0 445.6,474.3 447.8,474.1 448.6,474.5 450.8,473.7 452.8,474.7 453.4,474.2 455.6,473.9 456.3,474.6 458.5,474.0 460.3,473.5 461.3,474.3 462.6,475.7 464.9,474.7 466.4,475.1 468.2,474.9 469.9,474.9 471.7,475.2 473.5,473.2 474.6,473.7 475.4,473.8 477.9,473.4 479.4,474.0 480.9,474.1 483.0,472.6 484.0,472.2 485.3,472.1 487.3,472.2 487.8,470.8 490.5,470.7 491.8,471.0 494.1,470.8 495.1,469.5 496.8,470.7 498.1,469.4 499.3,470.6 501.4,470.4 503.0,468.5 505.0,469.9 506.4,469.6 508.1,469.1 509.8,469.8 510.9,470.3 512.8,469.3 514.1,468.2 515.2,467.9 516.8,467.9 519.3,467.8 521.3,468.8 522.8,468.1 523.5,467.9 526.1,468.2 527.7,467.6 528.3,467.7 530.4,467.1 532.5,467.2 533.5,467.6 535.5,466.8 536.5,468.4 538.2,467.3 540.3,466.8 541.5,467.5 543.2,466.2 544.8,467.2 545.9,466.5 548.6,467.5 549.5,466.1 551.0,466.2 552.6,466.1 554.4,466.0 555.6,466.9 557.9,466.2 559.0,467.0 561.0,466.4 562.0,467.3 563.3,465.1 565.1,466.6 567.1,466.1 568.1,465.9 570.5,465.2 571.7,466.3 573.7,464.8 574.8,465.1 576.9,464.4 577.7,464.3 579.3,464.4 581.7,464.5 582.8,463.4 585.1,463.6 585.9,463.0 588.1,463.8 589.1,463.0 590.4,463.0 593.3,463.6 594.2,463.1 596.3,463.2 597.6,462.8 598.4,463.1 600.8,462.9 602.6,462.2 604.4,463.0 606.1,462.7 607.1,462.8 608.5,463.1 610.1,462.6 611.2,462.3 613.7,463.5 615.4,463.8 616.6,462.5 617.9,463.2 620.0,462.5 621.0,461.9 623.3,461.5 624.2,461.8 625.8,461.7 627.6,461.8 628.9,462.0 630.5,461.5 632.7,462.5 633.2,461.7 636.7,461.2 638.0,462.4 639.6,462.3 640.9,462.6 642.7,461.4 644.1,460.6 646.1,461.1 646.8,460.1 648.9,459.3 649.7,458.6 652.1,458.2 652.7,456.1 655.0,456.5 655.8,454.2 658.4,454.2 659.0,451.8 660.7,451.9 662.3,451.6 663.1,448.5 663.0,447.7 665.7,447.1 665.6,444.8 666.0,443.4 668.5,441.8 667.0,439.7 668.6,438.3 669.3,437.4 670.5,435.5 670.3,434.1 672.4,433.1 673.1,431.3 673.0,429.4 673.1,427.6 672.7,426.2 673.9,425.2 673.5,423.0 674.2,422.3 674.7,419.7 674.2,418.2 673.1,415.9 673.9,415.7 675.2,412.1 674.7,411.4 675.3,410.3 673.1,407.9 674.2,406.3 673.9,404.7 672.9,402.4 673.3,402.1 674.0,400.0 673.6,398.5 673.0,397.3 673.5,395.3 674.1,393.3 672.9,392.5 673.9,390.4 674.5,388.6 673.6,387.2 674.9,386.6 674.3,384.1 675.0,382.8 675.1,380.6 674.7,379.5 674.5,377.0 674.3,376.7 674.9,374.4 675.2,373.4 676.1,370.7 675.6,369.1 676.2,368.6 677.3,366.3 676.8,365.0 677.0,364.0 677.9,362.1 677.1,360.0 677.4,358.2 677.7,357.0 677.3,355.1 676.8,353.5 676.6,351.9 677.3,350.9 678.0,348.7 677.9,346.9 678.1,346.1 677.4,343.3 676.2,341.7 675.4,340.7 675.5,338.3 675.3,337.9 674.7,336.4 675.3,334.6 674.1,333.1 674.6,330.4 674.5,329.6 672.9,328.0 673.5,326.2 674.3,324.1 674.0,323.1 673.5,321.7 672.7,319.9 672.9,317.8 673.3,316.8 674.0,314.5 673.6,313.4 673.2,312.0 673.4,310.1 673.6,307.8 672.1,307.2 672.4,304.9 672.9,303.6 673.5,302.0 673.4,300.5 672.2,298.6 672.7,297.0 672.2,295.5 672.3,293.8 672.7,292.7 672.3,291.0 672.0,289.6 671.4,287.8 670.8,286.2 671.2,284.6 671.0,282.6 671.0,281.6 669.9,279.9 669.6,277.9 670.6,275.9 670.1,275.0 670.3,273.0 669.4,271.4 669.4,270.9 669.0,268.8 670.1,267.7 668.6,265.9 667.8,264.0 667.8,263.1 668.4,260.8 667.1,259.5 666.7,258.0 666.1,256.1 665.5,255.0 665.0,253.8 663.9,251.5 665.2,250.2 663.8,248.3 664.3,247.1 662.6,245.4 663.6,243.9 662.5,242.4 662.4,240.6 663.1,239.0 663.4,237.1 663.4,234.2 663.3,234.1 662.2,233.0 662.6,230.5 661.6,229.7 661.4,228.0 661.6,226.2 661.2,224.5 661.5,222.9 659.9,221.4 661.4,219.8 660.3,217.8 661.5,216.2 661.3,215.1 660.0,213.5 660.7,212.3 660.9,209.9 660.0,208.7 659.8,206.3 659.9,205.7 660.0,203.2 659.7,202.6 658.4,201.4 658.3,199.5 657.8,197.4 656.8,195.6 655.3,194.9 654.7,192.6 655.0,191.6 655.0,190.0 654.4,188.3 653.5,186.0 653.0,185.1 653.8,183.4 652.8,182.7 653.5,180.4 651.5,179.1 651.5,176.9 651.1,176.4 652.1,174.6 651.5,173.2 650.2,171.7 649.0,169.6 650.6,168.3 649.7,166.0 648.9,164.9 648.7,163.6 649.7,161.8 649.3,160.5 649.4,158.9 649.3,156.3 648.7,154.9 648.6,154.2 648.8,152.4 647.9,150.3 647.7,149.9 647.8,148.0 646.1,146.8 647.6,145.2 647.0,143.8 646.2,142.5 646.2,140.6 647.0,139.4 646.3,137.3 644.8,136.0 645.2,134.8 645.3,132.3 646.1,130.9 645.4,130.1 644.5,128.4 644.4,125.8 643.7,124.1 643.4,122.9 643.7,121.5 642.1,119.6 643.6,117.2 643.4,116.0 642.9,115.0 642.6,112.6 642.5,111.3 643.3,109.5 643.2,107.8 643.1,106.0 643.9,104.5 641.6,103.7 642.1,101.6 641.8,100.0 642.3,97.8 641.5,97.3 640.6,95.4 641.0,94.0 640.7,91.9 641.2,90.5 640.4,90.1 639.5,87.0 639.4,86.0 639.0,84.6 639.5,83.1 639.3,81.3 638.4,79.9 638.1,77.8 638.7,76.0 637.7,74.6 637.7,72.8 636.7,71.7 636.6,69.5 635.6,68.3 635.8,66.4 636.6,64.7 636.9,63.5 635.8,61.3 635.1,60.0 635.7,58.8 636.0,56.3 635.1,54.8 635.7,54.5 635.1,53.3 634.1,51.1 634.0,49.1 634.1,47.2 635.3,45.6 634.1,44.4 633.3,42.5 633.4,40.9 633.1,39.8 632.5,38.0 632.5,36.0 632.4,35.1 632.8,33.4 633.3,31.9 633.0,29.3 632.2,28.1 632.7,26.4 632.1,25.3 632.0,23.5 632.8,21.4 633.3,20.3 632.9,18.2"/>
<polyline stroke="#0072BD" points="176.6,357.3 175.7,359.5 175.7,360.4 173.9,362.9 173.9,364.1 173.5,365.1 172.6,365.6 171.6,367.7 170.1,369.4 169.5,369.7 168.5,370.8 169.1,372.9 167.6,373.6 165.6,374.7 164.2,375.6 162.7,375.0 160.4,376.3 159.0,375.4 157.0,375.5 155.1,376.1 153.1,377.4 150.2,376.7 150.0,377.6 147.9,377.2 146.4,378.5 147.4,379.0 145.5,380.2 145.9,380.6 146.7,381.4 147.7,381.4 150.4,383.6 149.9,384.7 152.5,385.1 153.2,385.5 155.6,385.8 156.8,386.0 157.8,385.1 158.4,385.8 161.2,386.6 162.9,387.0 164.3,386.6 165.4,386.0 167.5,387.0 168.3,387.2 170.5,388.1 172.0,388.2 173.1,388.5 174.0,389.8 175.8,389.8 176.8,389.3 178.1,388.5 180.7,388.2 181.5,389.1 182.9,389.8 184.3,390.8 186.4,391.2 187.5,391.5 188.7,392.4 190.5,391.2 191.6,391.9 192.0,390.7 193.0,390.8 195.3,391.0 195.7,390.5 197.9,392.4 199.3,391.7 200.7,392.0 202.4,392.5 204.1,392.1 205.6,392.6 207.3,391.9 208.5,393.7 210.1,392.3 212.6,393.4 213.5,392.2 214.7,392.1 216.9,391.7 218.0,391.5 220.0,392.0 222.0,392.2 223.6,391.4 225.4,390.6 226.8,391.0 228.1,390.2 229.6,389.0 231.2,390.3 232.5,389.1 235.1,389.5 235.8,389.8 238.1,389.5 239.0,389.6 241.2,390.5 241.1,390.3 244.0,390.5 245.2,389.8 247.7,389.7 249.3,390.5 250.0,389.2 251.9,389.9 253.9,390.0 255.3,390.4 256.9,390.8 258.8,390.9 259.5,391.6 262.3,391.0 263.5,392.1 263.7,391.6 266.2,393.0 268.2,393.1 270.7,392.5 271.4,392.5 272.6,392.9 275.5,393.0 276.5,391.9 278.0,392.1 280.1,393.0 280.9,392.3 282.4,391.8 284.2,391.4 285.2,392.7 287.0,392.5 287.7,393.8 290.1,394.4 290.4,395.6 292.5,394.3 295.0,395.7 296.6,394.7 298.7,394.5 300.6,394.6 302.2,393.9 304.0,395.1 305.8,393.7 307.7,393.0 308.8,394.6 310.9,392.6 312.2,392.9 312.6,393.2 314.5,392.9 314.9,393.8 316.5,394.3 317.4,393.2 318.9,393.9 319.7,394.1 322.0,394.0 323.1,394.3 324.6,395.1 325.7,395.0 327.6,396.2 329.5,397.1 329.9,396.9 331.1,397.5 332.2,397.3 333.5,398.4 334.2,399.5 335.1,400.4 336.7,401.2 337.7,402.5 339.4,403.4 340.6,403.9 341.4,405.6 343.0,406.5 344.4,406.8 344.1,408.4 345.0,408.7 346.3,410.2 347.8,410.8 348.1,412.7 349.3,413.1 350.5,415.1 351.4,414.6 352.2,416.1 351.8,417.1 353.1,417.9 353.9,419.4 353.8,421.1 354.5,422.5 355.1,422.2 355.0,425.4 357.2,426.6 356.8,428.1 357.4,429.3 356.5,430.5 356.7,432.3 357.9,434.0 357.5,434.7 357.0,437.0 357.2,438.5 357.3,439.9 357.0,442.3 356.6,443.1 357.9,444.5 359.0,446.4 358.8,447.9 359.3,450.4 359.7,450.8 359.7,452.7 360.4,455.0 361.0,456.9 361.7,457.7 362.9,460.2 364.0,460.3 365.0,463.0 365.8,463.7 366.2,465.7 367.8,467.9 368.4,468.8 369.1,470.2 370.8,471.6 372.0,473.9 373.0,474.5 375.1,474.3 376.4,476.2 378.1,475.7 380.1,475.9 381.7,476.4 384.0,476.3 385.0,477.1 386.9,477.7 389.2,476.3 390.7,477.3 391.1,477.0 393.3,476.9 394.5,476.5 396.8,476.3 398.3,475.8 399.7,476.6 401.1,476.4 402.5,476.8 403.8,476.7 406.4,476.7 407.5,476.9 409.2,477.5 410.9,477.9 412.7,476.5 414.7,477.0 415.4,477.0 417.3,477.7 418.0,477.7 420.1,478.2 421.5,478.0 423.2,478.9 425.4,477.9 426.6,477.9 428.2,477.8 429.8,478.0 431.3,478.2 432.9,477.8 434.3,477.5 435.9,477.3 437.6,478.1 439.3,477.7 440.2,477.5 442.7,477.7 444.2,478.0 446.1,478.8 447.1,478.5 448.6,477.0 450.9,476.9 451.8,475.9 453.9,475.6 455.0,475.5 456.5,476.8 458.0,476.1 459.9,475.3 461.6,475.7 462.9,475.8 465.5,475.6 466.7,476.7 467.8,474.9 470.4,475.6 471.8,475.9 472.7,476.1 474.1,474.6 476.2,475.8 478.1,475.0 478.9,475.4 481.4,474.8 482.6,476.0 484.8,477.0 485.9,475.7 487.6,474.7 489.2,473.6 491.2,474.5 492.0,474.4 494.4,472.6 494.9,473.5 496.9,471.8 498.7,471.9 500.1,472.6 502.0,471.8 502.7,473.2 505.0,473.6 507.0,473.0 508.2,473.4 509.4,474.1 511.5,473.5 513.1,473.8 514.3,473.7 516.7,472.1 517.7,473.7 519.0,473.0 521.0,472.3 522.3,472.5 524.1,472.1 525.9,471.9 527.1,471.1 529.2,471.2 530.6,471.1 532.6,471.6 533.3,471.1 535.3,470.9 537.0,470.4 538.6,471.0 539.2,469.0 541.2,469.7 543.4,470.7 545.1,470.0 546.5,470.6 548.1,471.2 550.1,470.7 551.1,469.5 552.6,470.2 555.1,469.6 556.4,470.5 557.7,470.7 559.0,470.0 561.6,470.3 562.5,469.9 564.0,471.0 566.3,469.9 566.9,469.9 569.0,469.9 570.9,470.0 572.2,469.7 573.6,469.1 575.6,469.0 576.5,469.2 578.5,469.0 580.4,468.3 581.3,468.1 583.8,468.1 584.8,468.4 586.4,467.8 587.8,467.4 589.8,467.7 591.0,467.6 592.9,468.2 594.9,467.7 596.5,467.8 597.1,469.1 599.8,468.3 600.7,467.7 602.7,468.8 604.2,467.9 605.9,467.6 607.2,468.3 609.2,467.0 611.1,467.5 612.1,467.8 614.0,467.8 615.8,467.0 617.6,466.8 619.0,467.0 620.7,467.5 622.1,465.8 623.7,467.0 625.5,466.5 627.0,466.8 628.3,465.2 629.5,466.3 631.0,464.9 633.6,465.1 635.3,464.4 636.6,463.2 638.4,464.4 640.0,464.5 642.1,464.5 643.2,463.7 644.9,463.2 647.5,463.6 648.0,463.0 650.2,463.1 652.2,462.6 652.9,461.3 654.8,460.4 657.1,458.9 658.2,457.4 660.1,457.4 662.4,456.2 663.4,455.6 665.4,453.0 667.0,452.8 667.3,450.6 669.1,448.6 669.9,447.0 670.9,445.6 671.8,444.2 672.2,443.1 673.1,441.7 674.5,439.4 675.3,437.3 675.0,436.0 676.4,434.1 675.9,432.8 676.9,431.1 677.0,428.6 676.1,426.3 676.7,424.6 677.8,422.8 676.9,421.7 677.0,419.7 677.2,417.6 677.5,416.7 677.7,414.7 677.2,412.9 678.2,411.2 676.9,409.3 676.8,407.8 676.7,406.6 676.7,405.7 677.2,402.9 677.5,401.3 675.9,399.9 675.9,398.4 676.2,396.8 675.8,395.0 676.3,394.1 675.4,392.3 676.5,391.1 675.0,389.2 676.6,387.9 676.8,386.3 677.9,385.2 676.2,382.8 677.2,380.8 677.1,380.7 676.3,377.4 676.9,376.3 676.3,374.9 676.2,372.9 675.9,371.5 676.6,369.8 676.1,367.6 675.4,366.5 676.6,364.8 675.5,363.4 676.8,361.8 676.6,360.4 676.0,358.5 675.7,357.1 676.1,354.8 675.9,353.7 676.5,351.7 676.6,349.9 678.2,348.3 675.7,347.4 676.5,344.9 677.1,344.7 677.3,341.8 677.4,341.7 676.0,339.5 676.8,337.6 674.7,336.3 676.0,335.2 676.4,333.3 676.2,331.1 675.0,330.3 675.2,327.7 674.5,325.9 675.3,324.2 675.0,323.1 675.9,321.5 675.4,320.1 676.2,317.2 675.9,316.2 675.7,314.8 676.8,313.2 676.4,311.3 674.9,310.9 676.2,308.1 675.7,307.1 675.8,306.1 675.0,303.2 673.6,302.4 674.2,300.2 673.3,299.1 674.0,297.2 674.5,294.7 675.6,293.4 674.8,291.8 674.8,291.0 674.7,288.3 673.6,287.5 674.4,285.3 673.9,284.4 673.0,282.4 673.0,280.7 673.2,279.9 673.4,277.6 673.7,276.5 672.4,274.3 672.3,273.1 673.2,271.6 673.6,268.9 672.7,268.3 671.6,267.3 671.1,265.3 671.4,264.0 670.9,262.0 670.2,261.4 671.1,258.6 671.7,258.0 669.9,256.4 669.9,254.9 670.2,253.2 669.9,250.7 671.2,249.8 670.1,248.7 671.4,246.7 671.3,244.9 671.4,243.0 670.1,241.9 670.8,240.1 670.6,237.3 670.7,236.9 670.2,235.2 669.5,234.1 670.3,231.6 670.3,230.5 670.2,227.9 668.9,226.6 669.6,225.1 668.7,224.1 669.0,222.3 669.3,220.7 667.8,219.0 669.9,217.4 668.7,215.9 667.2,214.2 666.8,212.7 666.6,211.2 665.9,209.2 664.8,207.6 664.9,206.6 663.4,204.1 663.3,203.2 663.7,201.2 661.7,199.6 660.7,199.4 660.8,197.0 659.4,195.4 659.0,193.7 658.1,192.3 658.9,190.5 658.1,190.0 658.6,188.1 658.2,186.0 658.8,185.4 658.1,183.2 657.2,181.6 656.4,179.9 656.5,178.1 656.0,176.8 657.1,175.5 655.8,174.1 654.4,172.2 655.6,170.3 655.5,168.7 654.2,167.4 654.7,165.7 653.2,164.9 653.5,162.6 652.8,160.8 652.7,159.9 652.2,157.8 651.3,156.2 651.7,153.9 650.8,153.4 650.8,152.0 651.4,150.7 649.9,149.5 650.3,148.1 651.1,146.4 650.5,143.9 649.4,142.9 649.4,141.2 650.2,140.1 649.6,138.7 649.9,136.8 648.7,134.1 649.8,132.3 648.9,131.9 649.6,129.4 649.8,127.6 649.2,126.6 648.6,125.0 648.5,122.7 648.1,121.3 650.1,119.1 648.1,118.2 648.4,116.6 649.2,114.7 649.0,113.4 649.3,111.0 649.5,109.9 648.9,108.3 648.5,106.9 648.2,105.6 648.2,103.7 648.6,102.0 648.1,100.6 647.5,98.4 645.4,96.7 645.3,95.8 644.5,94.5 643.7,93.3 642.6,92.2 642.5,89.7 641.9,88.3 641.6,87.3 639.5,85.6 639.0,84.5 638.3,82.0 637.8,81.0 636.8,79.3 637.3,77.1 635.5,77.2 635.9,74.5 634.9,73.0 636.1,71.5 634.7,69.9 634.6,67.8 635.1,66.9 634.4,65.3 634.9,62.7 634.4,61.5 635.6,60.0 633.7,58.5 633.7,57.2 634.2,55.7 633.7,54.1 633.5,52.4 632.8,51.2 633.1,50.0 632.4,47.9 632.5,46.1 630.7,44.9 631.2,42.8 630.6,41.4 630.6,39.5 629.7,38.3 630.4,36.7 629.0,34.9 630.1,33.0 629.8,32.0 628.3,30.6 629.3,28.0 627.8,27.3 629.0,25.2 627.7,24.0 628.4,22.1 628.1,20.0 627.2,18.3"/>
<polyline stroke="#D95319" points="171.0,358.5 170.1,359.7 168.8,361.6 168.3,362.5 168.0,364.6 166.2,365.3 164.7,366.0 162.8,366.9 163.3,367.4 162.0,369.9 161.8,371.0 160.7,373.3 160.7,374.1 160.3,374.8 160.5,375.7 158.9,376.9 158.1,379.1 158.0,380.9 157.5,381.9 155.9,384.2 156.4,385.5 156.3,385.8 157.4,386.9 157.3,387.2 159.8,388.9 161.1,388.9 162.9,389.6 163.9,389.9 165.6,390.9 165.7,391.2 168.3,392.8 170.6,393.1 171.3,392.9 172.7,393.4 174.3,394.1 176.4,394.6 176.6,394.7 177.5,396.1 179.1,396.3 180.7,397.1 182.6,395.4 184.3,395.9 184.8,396.8 185.9,396.7 188.4,396.6 189.9,396.3 190.3,397.0 192.7,396.8 193.7,397.7 195.0,397.7 196.6,397.4 197.5,396.0 198.3,396.4 199.8,396.4 201.6,396.0 204.0,394.8 205.1,395.1 207.0,395.1 209.4,396.0 210.6,396.1 212.5,395.3 213.6,395.7 215.0,395.9 217.0,394.8 218.1,395.3 220.2,395.4 221.5,394.6 223.1,395.2 224.8,394.9 226.1,394.5 228.6,395.1 229.0,394.1 231.4,394.4 232.3,393.9 234.8,394.2 235.9,393.0 237.7,393.4 239.4,393.2 241.0,393.2 242.5,393.2 244.1,391.5 245.7,392.0 247.0,391.5 248.7,392.5 250.3,392.9 251.7,392.3 253.4,392.8 255.8,393.5 256.3,393.1 259.1,392.9 259.8,392.0 261.9,392.3 263.3,392.8 264.7,391.4 266.7,391.9 268.7,391.6 269.5,391.2 271.2,391.3 272.4,390.3 275.3,390.8 276.3,389.8 278.1,390.3 279.1,389.4 280.0,389.8 282.5,389.5 283.1,390.5 285.3,389.6 287.5,390.3 288.2,391.5 289.8,391.6 290.9,391.5 293.7,391.9 295.2,391.5 296.3,391.9 298.3,391.8 299.1,391.9 300.9,391.1 302.9,390.5 304.5,389.3 305.5,388.3 306.7,388.1 308.8,388.4 310.9,387.3 311.9,387.9 313.7,386.4 315.4,386.9 316.6,386.9 318.4,387.7 319.3,387.4 321.4,387.7 323.1,388.7 325.2,388.1 326.8,389.3 327.6,390.0 329.7,389.7 330.9,390.6 332.3,390.6 333.7,391.4 335.3,392.4 336.7,393.3 337.8,393.9 340.6,395.1 340.4,396.3 342.3,396.9 343.5,397.3 345.2,399.8 345.4,398.9 346.5,401.2 348.2,402.0 350.0,403.0 351.0,403.6 352.0,404.4 353.7,406.4 354.3,407.6 354.4,409.1 355.7,410.1 356.6,411.4 357.2,413.1 357.8,413.7 359.2,415.7 359.8,416.9 359.2,419.3 360.5,420.5 360.0,421.7 360.5,424.2 361.6,425.3 361.6,426.3 362.5,427.7 362.7,429.4 362.8,431.5 363.1,433.4 362.5,434.2 363.4,435.8 363.1,438.0 363.5,439.3 363.4,440.9 363.0,442.5 364.7,443.9 363.7,446.5 364.7,447.6 364.3,448.8 364.9,451.0 365.2,452.8 365.8,453.7 366.7,455.1 364.8,457.0 366.0,458.6 367.1,459.9 368.7,461.5 368.0,462.6 368.3,464.0 369.9,465.6 371.8,466.7 371.7,467.5 372.9,469.6 373.9,470.6 374.5,472.1 376.7,472.7 378.2,474.0 379.2,473.5 380.4,476.1 381.8,476.5 383.9,476.7 385.4,476.5 386.3,478.1 388.8,477.5 390.1,477.9 391.2,477.8 392.3,478.3 394.4,478.8 396.3,479.0 398.1,480.2 399.1,480.1 400.8,479.8 401.9,479.5 404.0,479.7 405.9,479.0 407.2,479.7 409.0,479.0 410.3,479.1 411.9,479.5 414.0,478.9 414.8,478.8 417.1,480.0 419.1,478.8 420.0,479.0 421.6,479.1 423.1,479.3 424.5,479.5 426.3,477.9 427.7,479.0 429.8,479.8 431.2,479.5 432.6,479.2 434.6,478.5 436.6,478.5 438.1,478.0 439.2,477.4 441.0,478.3 442.2,478.6 444.1,478.0 446.1,477.7 447.7,478.0 449.5,477.6 450.0,478.0 452.8,477.0 453.9,476.2 456.0,477.1 457.0,477.2 459.0,476.2 460.1,476.5 461.3,476.6 463.4,474.8 464.8,477.2 466.6,476.3 468.3,475.7 470.0,475.1 471.6,474.9 473.5,477.2 473.9,475.4 476.6,475.7 477.4,474.9 479.4,474.9 480.8,475.1 482.0,474.2 484.4,474.3 485.3,474.1 487.1,474.2 489.5,474.1 489.5,473.6 491.5,474.2 494.0,473.0 495.1,473.0 497.2,473.0 498.4,472.7 499.9,473.0 501.7,470.9 502.8,471.2 504.4,470.7 506.5,472.2 507.5,471.7 508.9,470.7 510.5,471.1 513.0,469.7 515.1,470.3 516.5,471.1 517.3,470.6 519.0,471.3 520.3,469.8 522.4,470.5 524.3,469.7 525.5,469.7 527.1,469.6 527.4,469.8 530.5,469.9 531.4,469.4 533.4,469.5 535.3,469.3 536.8,469.6 538.6,469.1 540.6,470.0 540.7,469.9 542.5,469.7 545.4,469.4 546.6,468.9 547.7,468.7 549.5,468.5 551.2,468.5 553.2,469.3 554.3,469.0 555.9,468.0 557.0,468.2 559.8,469.2 561.0,469.3 562.2,468.9 563.6,469.4 565.5,467.9 567.6,468.2 569.7,467.4 571.3,468.6 571.8,467.5 573.4,467.3 574.7,467.0 576.9,466.1 578.0,466.2 580.0,464.9 581.6,465.6 583.2,465.3 584.3,466.1 586.8,466.3 587.8,465.8 589.0,465.2 591.1,465.2 592.8,466.1 594.4,465.7 596.3,465.7 598.0,465.2 600.1,465.8 600.7,465.8 602.9,466.1 602.9,465.3 606.3,465.6 607.1,464.9 609.3,465.7 610.3,465.6 612.2,465.2 613.9,465.7 614.9,464.4 616.7,465.5 617.2,464.7 620.2,464.1 621.4,463.6 622.9,462.7 625.0,462.3 626.4,462.7 627.8,462.0 628.6,462.0 630.9,461.3 632.5,461.6 634.5,461.1 635.3,460.0 637.0,461.3 638.8,460.2 641.1,459.4 641.5,458.8 643.7,457.8 644.8,457.7 645.8,458.1 647.9,455.9 649.8,454.5 650.7,454.6 651.7,454.3 653.7,453.9 654.4,452.5 657.3,451.2 658.0,451.0 658.8,451.3 661.1,449.4 661.9,448.0 662.8,447.4 663.5,445.7 664.4,444.1 664.5,441.4 665.4,441.1 665.9,439.6 667.5,437.8 667.6,436.9 667.6,435.3 668.8,433.6 669.3,431.7 669.8,430.5 669.6,429.0 670.0,426.7 671.1,425.3 670.4,424.8 671.2,423.1 670.4,421.3 670.9,419.4 670.9,417.7 670.7,416.2 671.6,414.5 670.7,412.8 671.5,411.9 670.4,410.7 671.8,408.0 671.5,406.0 672.1,404.9 672.5,403.5 671.2,401.5 671.6,400.3 671.0,399.1 671.4,397.1 671.7,395.0 671.6,393.6 672.0,391.9 671.8,390.8 672.1,388.7 671.3,386.7 671.7,385.9 671.1,384.3 671.6,382.0 670.4,380.8 671.7,379.8 671.9,377.9 671.7,375.6 671.7,374.3 671.1,372.1 671.7,371.0 671.7,369.6 672.2,367.7 672.3,366.7 672.0,364.5 672.3,363.3 672.6,361.8 672.1,359.9 673.1,358.7 673.6,357.3 672.8,355.6 672.4,353.5 672.7,352.0 673.1,350.4 673.0,348.6 671.6,347.7 672.3,345.8 671.7,343.4 671.8,342.9 672.0,340.3 672.0,339.4 671.5,337.5 671.1,336.0 671.4,334.6 671.0,332.8 672.4,330.8 670.8,329.9 672.0,328.4 671.8,326.1 671.9,325.0 671.4,323.3 671.7,321.7 671.7,320.2 671.6,319.1 671.6,316.8 671.6,315.4 671.2,314.1 671.4,312.2 671.4,310.3 670.6,308.1 671.2,307.4 670.7,305.1 670.4,304.2 670.7,302.2 671.0,300.9 670.1,299.0 669.2,297.7 670.2,296.2 670.1,295.0 668.6,292.6 669.0,291.9 668.9,290.0 667.0,287.7 668.3,286.5 668.0,284.9 667.8,283.3 667.8,281.7 666.4,280.5 667.0,278.5 667.4,277.0 665.1,275.8 665.8,273.8 666.1,272.0 665.4,270.6 664.7,268.8 665.7,266.7 665.6,265.2 665.2,264.3 665.8,263.1 666.1,260.6 666.2,259.4 665.9,257.6 665.2,256.4 665.7,254.3 664.8,253.5 665.5,251.4 666.1,250.4 666.3,247.4 666.0,246.7 665.9,245.9 664.9,242.9 665.1,241.4 665.0,239.7 665.2,239.1 665.0,236.9 666.3,234.8 665.7,233.8 664.7,232.1 664.9,230.7 665.0,229.1 665.0,226.8 665.0,226.1 664.2,224.2 665.6,222.3 665.2,220.9 664.9,219.0 664.5,218.6 664.3,215.7 663.7,215.1 662.5,213.2 663.2,211.6 662.9,209.7 662.0,208.4 661.3,207.0 662.7,204.8 661.5,202.8 661.8,202.2 661.4,200.6 662.5,198.9 660.9,197.7 662.0,196.0 660.1,194.2 661.6,192.0 660.8,190.9 659.8,189.6 660.8,187.6 660.6,186.3 659.5,183.4 660.3,182.1 660.0,181.2 660.2,180.2 658.9,178.3 659.0,176.8 658.7,175.3 659.0,174.1 658.3,171.9 657.8,170.4 658.8,168.7 657.7,167.5 658.2,165.1 658.1,164.0 657.4,163.0 656.7,161.0 657.5,158.5 657.5,156.8 657.7,156.1 657.0,154.1 656.6,152.3 655.8,150.6 655.5,149.6 657.0,147.3 655.7,146.3 654.3,145.5 654.3,142.7 654.0,141.6 652.4,140.2 652.7,138.7 652.6,137.3 652.6,135.4 652.0,133.6 650.8,133.0 650.1,130.3 649.6,128.5 650.0,128.6 649.6,125.7 648.5,124.9 648.5,122.9 648.0,121.5 647.5,120.1 647.2,118.1 648.0,116.7 647.5,114.6 647.1,113.5 645.3,112.9 645.8,110.7 646.4,108.9 645.2,107.7 644.3,106.5 644.4,103.6 643.7,102.9 643.3,101.3 643.4,100.3 642.9,97.9 642.3,96.7 641.9,94.6 641.0,92.9 641.4,92.1 641.4,90.5 640.7,88.3 640.3,86.8 639.4,85.6 640.4,83.6 639.1,82.6 639.8,80.8 639.1,79.2 639.5,78.4 639.3,75.7 638.5,74.1 637.0,73.3 637.4,71.5 637.8,69.5 637.8,67.8 638.4,66.4 639.2,64.9 638.6,63.0 638.2,61.5 639.0,60.3 638.1,58.5 638.5,56.9 638.0,54.9 636.7,54.2 637.8,52.3 637.9,50.5 636.5,48.9 636.6,46.3 636.3,45.7 635.6,43.7 635.4,42.2 635.9,40.4 635.0,38.7 634.9,37.5 635.5,36.5 635.4,34.6 635.5,32.3 634.3,30.5 633.8,29.3 634.9,27.2 633.5,26.3 634.0,25.3"/>
</g>
<g class="ax"><line x1="58.1" y1="6.5" x2="757.95" y2="6.5"/><line x1="58.1" y1="559.6" x2="757.95" y2="559.6"/><line x1="58.1" y1="5.7" x2="58.1" y2="560.4"/><line x1="757.95" y1="5.7" x2="757.95" y2="560.4"/><line x1="58.1" y1="559.6" x2="58.1" y2="552.0"/><line x1="58.1" y1="6.5" x2="58.1" y2="14.1"/><line x1="158.1" y1="559.6" x2="158.1" y2="552.0"/><line x1="158.1" y1="6.5" x2="158.1" y2="14.1"/><line x1="258.1" y1="559.6" x2="258.1" y2="552.0"/><line x1="258.1" y1="6.5" x2="258.1" y2="14.1"/><line x1="358.0" y1="559.6" x2="358.0" y2="552.0"/><line x1="358.0" y1="6.5" x2="358.0" y2="14.1"/><line x1="458.0" y1="559.6" x2="458.0" y2="552.0"/><line x1="458.0" y1="6.5" x2="458.0" y2="14.1"/><line x1="558.0" y1="559.6" x2="558.0" y2="552.0"/><line x1="558.0" y1="6.5" x2="558.0" y2="14.1"/><line x1="658.0" y1="559.6" x2="658.0" y2="552.0"/><line x1="658.0" y1="6.5" x2="658.0" y2="14.1"/><line x1="758.0" y1="559.6" x2="758.0" y2="552.0"/><line x1="758.0" y1="6.5" x2="758.0" y2="14.1"/><line x1="58.1" y1="6.5" x2="65.7" y2="6.5"/><line x1="757.95" y1="6.5" x2="750.35" y2="6.5"/><line x1="58.1" y1="98.7" x2="65.7" y2="98.7"/><line x1="757.95" y1="98.7" x2="750.35" y2="98.7"/><line x1="58.1" y1="190.9" x2="65.7" y2="190.9"/><line x1="757.95" y1="190.9" x2="750.35" y2="190.9"/><line x1="58.1" y1="283.1" x2="65.7" y2="283.1"/><line x1="757.95" y1="283.1" x2="750.35" y2="283.1"/><line x1="58.1" y1="375.2" x2="65.7" y2="375.2"/><line x1="757.95" y1="375.2" x2="750.35" y2="375.2"/><line x1="58.1" y1="467.4" x2="65.7" y2="467.4"/><line x1="757.95" y1="467.4" x2="750.35" y2="467.4"/><line x1="58.1" y1="559.6" x2="65.7" y2="559.6"/><line x1="757.95" y1="559.6" x2="750.35" y2="559.6"/></g>
<g class="tk"><text x="57.3" y="590.7" text-anchor="middle">-1</text><text x="157.3" y="590.7" text-anchor="middle">0</text><text x="257.3" y="590.7" text-anchor="middle">1</text><text x="357.2" y="590.7" text-anchor="middle">2</text><text x="457.2" y="590.7" text-anchor="middle">3</text><text x="557.2" y="590.7" text-anchor="middle">4</text><text x="657.2" y="590.7" text-anchor="middle">5</text><text x="757.2" y="590.7" text-anchor="middle">6</text><text x="48.8" y="15.0" text-anchor="end">4</text><text x="48.8" y="107.2" text-anchor="end">3</text><text x="48.8" y="199.4" text-anchor="end">2</text><text x="48.8" y="291.6" text-anchor="end">1</text><text x="48.8" y="383.7" text-anchor="end">0</text><text x="48.8" y="475.9" text-anchor="end">-1</text><text x="48.8" y="568.1" text-anchor="end">-2</text></g>
<text class="lb" x="407.9" y="621.5" text-anchor="middle">X(m)</text>
<text class="lb" transform="translate(17.6,283.4) rotate(-90)" text-anchor="middle">Y(m)</text>
<g><rect x="309.8" y="24.3" width="196.4" height="298.1" fill="#ffffff" stroke="#262626" stroke-width="1.6"/><line x1="316.1" y1="40.1" x2="379.95" y2="40.1" stroke="#000000" stroke-width="4"/><text class="lg" x="385.1" y="48.4">Ground Truth</text><line x1="316.1" y1="66.7" x2="379.95" y2="66.7" stroke="#808080" stroke-width="4"/><text class="lg" x="385.1" y="75.0">KF</text><line x1="316.1" y1="93.3" x2="379.95" y2="93.3" stroke="#CB8839" stroke-width="4"/><text class="lg" x="385.1" y="101.6">KF-ZUPT</text><line x1="316.1" y1="120.0" x2="379.95" y2="120.0" stroke="#3DC98A" stroke-width="4"/><text class="lg" x="385.1" y="128.3">DNN</text><line x1="316.1" y1="146.6" x2="379.95" y2="146.6" stroke="#7E2F8E" stroke-width="4"/><text class="lg" x="385.1" y="154.9">Trans.</text><line x1="316.1" y1="173.2" x2="379.95" y2="173.2" stroke="#A2142F" stroke-width="4"/><text class="lg" x="385.1" y="181.5">RNN</text><line x1="316.1" y1="199.8" x2="379.95" y2="199.8" stroke="#77AC30" stroke-width="4"/><text class="lg" x="385.1" y="208.1">GRU</text><line x1="316.1" y1="226.4" x2="379.95" y2="226.4" stroke="#4DBEEE" stroke-width="4"/><text class="lg" x="385.1" y="234.7">LSTM</text><line x1="316.1" y1="253.1" x2="379.95" y2="253.1" stroke="#EDB120" stroke-width="4"/><text class="lg" x="385.1" y="261.4">Att-RNN</text><line x1="316.1" y1="279.7" x2="379.95" y2="279.7" stroke="#0072BD" stroke-width="4"/><text class="lg" x="385.1" y="288.0">Att-GRU</text><line x1="316.1" y1="306.3" x2="379.95" y2="306.3" stroke="#D95319" stroke-width="4"/><text class="lg" x="385.1" y="314.6">Att-LSTM</text></g>
</svg></body></html>
